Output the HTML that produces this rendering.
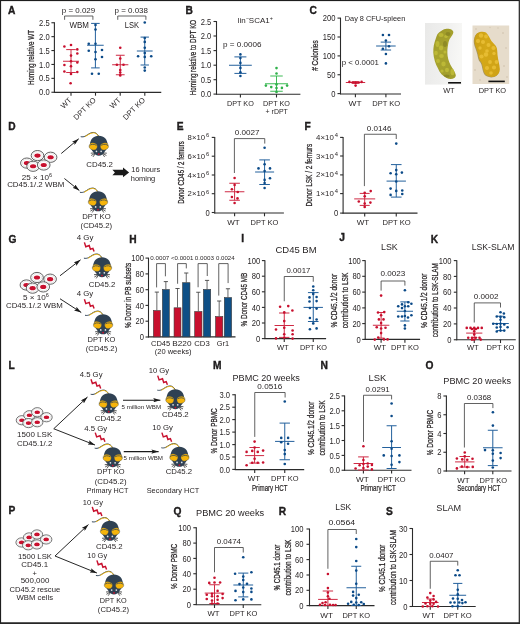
<!DOCTYPE html>
<html><head><meta charset="utf-8"><title>Figure</title>
<style>
html,body{margin:0;padding:0;background:#fff;}
body{width:520px;height:624px;overflow:hidden;}
svg{display:block;will-change:transform;font-family:"Liberation Sans",sans-serif;}
svg text{fill:#231f20;}
</style></head>
<body>
<svg width="520" height="624" viewBox="0 0 520 624">
<rect x="0" y="0" width="520" height="624" fill="#fff"/>

<defs>
 <g id="mouse">
  <path d="M-0.4,0.3 C-1.5,-1.8 -3.5,-3.1 -5.6,-3.0 C-8.8,-2.9 -11,-0.6 -13.6,0.7 C-15,1.4 -16.4,1.6 -17.7,1.3" fill="none" stroke="#34465a" stroke-width="1.0" stroke-linecap="round" transform="translate(0,-0.25)"/>
  <path d="M-0.4,0.3 C-1.5,-1.8 -3.5,-3.1 -5.6,-3.0 C-8.8,-2.9 -11,-0.6 -13.6,0.7" fill="none" stroke="#f7b800" stroke-width="0.85" stroke-linecap="round" transform="translate(0,0.15)"/>
  <g stroke="#2e2e2e" stroke-width="0.8" fill="none">
   <path d="M-3.8,17.2 L-8,17.5 M-3.8,17.6 L-7.6,19.8 M-3.6,18 L-5.8,21.2"/>
   <path d="M3.8,17.2 L8,17.5 M3.8,17.6 L7.6,19.8 M3.6,18 L5.8,21.2"/>
  </g>
  <path d="M0,0 C5.3,0 8.8,3.8 8.8,9 C8.8,12.6 6.6,14.8 5.4,16.6 C4.2,18.6 2.4,20 0,20 C-2.4,20 -4.2,18.6 -5.4,16.6 C-6.6,14.8 -8.8,12.6 -8.8,9 C-8.8,3.8 -5.3,0 0,0 Z" fill="#2f4153"/>
  <ellipse cx="0" cy="0" rx="4.1" ry="3.45" fill="#f5b40c" stroke="#2f4153" stroke-width="0.3" transform="translate(-5.6,10.7) rotate(18)"/>
  <ellipse cx="0" cy="0" rx="4.1" ry="3.45" fill="#f5b40c" stroke="#2f4153" stroke-width="0.3" transform="translate(5.6,10.7) rotate(-18)"/>
  <path d="M-9.3,10.2 C-8.2,8.4 -5.2,8 -2.3,9.6 M9.3,10.2 C8.2,8.4 5.2,8 2.3,9.6" fill="none" stroke="#2f4153" stroke-width="0.75"/>
  <circle cx="-2.35" cy="15.6" r="0.85" fill="#dfe4ea"/>
  <circle cx="2.35" cy="15.6" r="0.85" fill="#dfe4ea"/>
  <circle cx="0" cy="18.4" r="0.9" fill="#c8102e"/>
 </g>
 <path id="bolt" d="M0,0 L1.4,4.3 L4.8,3.1 L6,6.9 L8.5,6 L9.7,9.2" fill="none" stroke="#c8102e" stroke-width="1.45" stroke-linejoin="miter" stroke-miterlimit="6"/>
 <g id="cell">
  <ellipse cx="0" cy="0" rx="6.3" ry="5.1" fill="#fff" stroke="#3a3a3a" stroke-width="0.8"/>
  <ellipse cx="0" cy="0" rx="4.6" ry="3.8" fill="none" stroke="#cfcfcf" stroke-width="0.5"/>
  <ellipse cx="0" cy="0" rx="3.1" ry="2.05" fill="#c8102e"/>
 </g>
 <marker id="ah" viewBox="0 0 10 10" refX="10" refY="5" markerWidth="7.2" markerHeight="4.4" markerUnits="userSpaceOnUse" orient="auto" preserveAspectRatio="none">
  <path d="M0,0 L10,5 L0,10 L2,5 Z" fill="#1a1a1a"/>
 </marker>
</defs>

<text x="8.1" y="14.05" font-size="10.2" font-weight="bold" stroke="#111" stroke-width="0.35">A</text>
<line x1="54.4" y1="22.35" x2="54.4" y2="92.75" stroke="#2b2b2b" stroke-width="1.1"/>
<line x1="51.4" y1="22.75" x2="54.4" y2="22.75" stroke="#2b2b2b" stroke-width="1.1"/>
<text x="49.65" y="25.85" font-size="8.28" text-anchor="end" textLength="10.56" lengthAdjust="spacingAndGlyphs">2.5</text>
<line x1="51.4" y1="36.65" x2="54.4" y2="36.65" stroke="#2b2b2b" stroke-width="1.1"/>
<text x="49.65" y="39.75" font-size="8.28" text-anchor="end" textLength="10.56" lengthAdjust="spacingAndGlyphs">2.0</text>
<line x1="51.4" y1="50.55" x2="54.4" y2="50.55" stroke="#2b2b2b" stroke-width="1.1"/>
<text x="49.65" y="53.65" font-size="8.28" text-anchor="end" textLength="10.56" lengthAdjust="spacingAndGlyphs">1.5</text>
<line x1="51.4" y1="64.45" x2="54.4" y2="64.45" stroke="#2b2b2b" stroke-width="1.1"/>
<text x="49.65" y="67.55" font-size="8.28" text-anchor="end" textLength="10.56" lengthAdjust="spacingAndGlyphs">1.0</text>
<line x1="51.4" y1="78.35" x2="54.4" y2="78.35" stroke="#2b2b2b" stroke-width="1.1"/>
<text x="49.65" y="81.45" font-size="8.28" text-anchor="end" textLength="10.56" lengthAdjust="spacingAndGlyphs">0.5</text>
<line x1="51.4" y1="92.25" x2="54.4" y2="92.25" stroke="#2b2b2b" stroke-width="1.1"/>
<text x="49.65" y="95.35" font-size="8.28" text-anchor="end" textLength="10.56" lengthAdjust="spacingAndGlyphs">0.0</text>
<line x1="53.9" y1="92.4" x2="161.25" y2="92.4" stroke="#2b2b2b" stroke-width="1.1"/>
<line x1="71" y1="92.4" x2="71" y2="95.7" stroke="#2b2b2b" stroke-width="1.1"/>
<line x1="95.5" y1="92.4" x2="95.5" y2="95.7" stroke="#2b2b2b" stroke-width="1.1"/>
<line x1="120.2" y1="92.4" x2="120.2" y2="95.7" stroke="#2b2b2b" stroke-width="1.1"/>
<line x1="144.8" y1="92.4" x2="144.8" y2="95.7" stroke="#2b2b2b" stroke-width="1.1"/>
<text transform="translate(34.2,57.55) rotate(-90)" x="0" y="0" font-size="9.2" text-anchor="middle" textLength="55.1" lengthAdjust="spacingAndGlyphs" stroke="#231f20" stroke-width="0.25">Homing relative WT</text>
<path d="M64.6,19.8 V16 H92.9 V19.8" fill="none" stroke="#3a3a3a" stroke-width="0.8"/>
<text x="61.75" y="12.8" font-size="8.06" textLength="33.5" lengthAdjust="spacingAndGlyphs" >p = 0.029</text>
<text x="69.5" y="27.6" font-size="8.29" textLength="19.5" lengthAdjust="spacingAndGlyphs" >WBM</text>
<path d="M117.75,19.8 V16 H145.9 V19.8" fill="none" stroke="#3a3a3a" stroke-width="0.8"/>
<text x="114.5" y="12.8" font-size="8.06" textLength="33.5" lengthAdjust="spacingAndGlyphs" >p = 0.038</text>
<text x="124.75" y="27.6" font-size="8.29" textLength="14.25" lengthAdjust="spacingAndGlyphs" >LSK</text>
<text transform="translate(72,100.6) rotate(-45)" font-size="7.6" text-anchor="end">WT</text>
<text transform="translate(96.5,100.6) rotate(-45)" font-size="7.6" text-anchor="end">DPT KO</text>
<text transform="translate(121.2,100.6) rotate(-45)" font-size="7.6" text-anchor="end">WT</text>
<text transform="translate(145.8,100.6) rotate(-45)" font-size="7.6" text-anchor="end">DPT KO</text>
<line x1="71" y1="49.6" x2="71" y2="72.5" stroke="#cf2a44" stroke-width="1"/>
<line x1="63" y1="61.25" x2="79" y2="61.25" stroke="#cf2a44" stroke-width="1"/>
<line x1="66.2" y1="49.6" x2="75.8" y2="49.6" stroke="#cf2a44" stroke-width="1"/>
<line x1="66.2" y1="72.5" x2="75.8" y2="72.5" stroke="#cf2a44" stroke-width="1"/>
<circle cx="64.4" cy="46.5" r="1.3" fill="#c8102e"/>
<circle cx="71" cy="45" r="1.3" fill="#c8102e"/>
<circle cx="77.3" cy="49.4" r="1.3" fill="#c8102e"/>
<circle cx="77.3" cy="53.5" r="1.3" fill="#c8102e"/>
<circle cx="71" cy="55.6" r="1.3" fill="#c8102e"/>
<circle cx="71" cy="61.3" r="1.3" fill="#c8102e"/>
<circle cx="64.4" cy="65" r="1.3" fill="#c8102e"/>
<circle cx="77.3" cy="62.5" r="1.3" fill="#c8102e"/>
<circle cx="71" cy="66.2" r="1.3" fill="#c8102e"/>
<circle cx="64.4" cy="71.5" r="1.3" fill="#c8102e"/>
<circle cx="77.3" cy="72" r="1.3" fill="#c8102e"/>
<circle cx="71" cy="74" r="1.3" fill="#c8102e"/>
<circle cx="70.6" cy="83.2" r="1.3" fill="#c8102e"/>
<line x1="95.4" y1="23.4" x2="95.4" y2="67.9" stroke="#23609c" stroke-width="1"/>
<line x1="87.1" y1="45.25" x2="103.7" y2="45.25" stroke="#23609c" stroke-width="1"/>
<line x1="91.1" y1="23.4" x2="99.7" y2="23.4" stroke="#23609c" stroke-width="1"/>
<line x1="91.1" y1="67.9" x2="99.7" y2="67.9" stroke="#23609c" stroke-width="1"/>
<circle cx="95.5" cy="25" r="1.3" fill="#0b4a88"/>
<circle cx="95.5" cy="29.5" r="1.3" fill="#0b4a88"/>
<circle cx="88.75" cy="43.75" r="1.3" fill="#0b4a88"/>
<circle cx="95.5" cy="43.75" r="1.3" fill="#0b4a88"/>
<circle cx="88.75" cy="50.75" r="1.3" fill="#0b4a88"/>
<circle cx="102" cy="50" r="1.3" fill="#0b4a88"/>
<circle cx="95.5" cy="52" r="1.3" fill="#0b4a88"/>
<circle cx="102" cy="57" r="1.3" fill="#0b4a88"/>
<circle cx="95.5" cy="59.25" r="1.3" fill="#0b4a88"/>
<circle cx="92" cy="73.75" r="1.3" fill="#0b4a88"/>
<circle cx="98.75" cy="73.75" r="1.3" fill="#0b4a88"/>
<line x1="120.25" y1="55.25" x2="120.25" y2="74.75" stroke="#cf2a44" stroke-width="1"/>
<line x1="112.15" y1="64.75" x2="128.35" y2="64.75" stroke="#cf2a44" stroke-width="1"/>
<line x1="115.85" y1="55.25" x2="124.65" y2="55.25" stroke="#cf2a44" stroke-width="1"/>
<line x1="115.85" y1="74.75" x2="124.65" y2="74.75" stroke="#cf2a44" stroke-width="1"/>
<circle cx="120.25" cy="47.75" r="1.3" fill="#c8102e"/>
<circle cx="120.25" cy="58.5" r="1.3" fill="#c8102e"/>
<circle cx="116.9" cy="64.75" r="1.3" fill="#c8102e"/>
<circle cx="123.5" cy="64.75" r="1.3" fill="#c8102e"/>
<circle cx="120.25" cy="70" r="1.3" fill="#c8102e"/>
<circle cx="120.25" cy="72.5" r="1.3" fill="#c8102e"/>
<circle cx="120.25" cy="75.4" r="1.3" fill="#c8102e"/>
<line x1="144.75" y1="37.1" x2="144.75" y2="65" stroke="#23609c" stroke-width="1"/>
<line x1="136.85" y1="51" x2="152.65" y2="51" stroke="#23609c" stroke-width="1"/>
<line x1="140.55" y1="37.1" x2="148.95" y2="37.1" stroke="#23609c" stroke-width="1"/>
<line x1="140.55" y1="65" x2="148.95" y2="65" stroke="#23609c" stroke-width="1"/>
<circle cx="144.75" cy="22.5" r="1.3" fill="#0b4a88"/>
<circle cx="144.75" cy="38.1" r="1.3" fill="#0b4a88"/>
<circle cx="144.75" cy="41.9" r="1.3" fill="#0b4a88"/>
<circle cx="144.75" cy="47.75" r="1.3" fill="#0b4a88"/>
<circle cx="144.75" cy="53.1" r="1.3" fill="#0b4a88"/>
<circle cx="138.1" cy="56.25" r="1.3" fill="#0b4a88"/>
<circle cx="151.25" cy="56.25" r="1.3" fill="#0b4a88"/>
<circle cx="144.75" cy="56.9" r="1.3" fill="#0b4a88"/>
<circle cx="144.75" cy="67.5" r="1.3" fill="#0b4a88"/>
<circle cx="144.75" cy="70.6" r="1.3" fill="#0b4a88"/>
<text x="185.4" y="13.85" font-size="10.2" font-weight="bold" stroke="#111" stroke-width="0.35">B</text>
<line x1="216.5" y1="21.1" x2="216.5" y2="94.6" stroke="#2b2b2b" stroke-width="1.1"/>
<line x1="213.5" y1="21.5" x2="216.5" y2="21.5" stroke="#2b2b2b" stroke-width="1.1"/>
<text x="211.25" y="24.6" font-size="8.28" text-anchor="end" textLength="10.56" lengthAdjust="spacingAndGlyphs">2.5</text>
<line x1="213.5" y1="36" x2="216.5" y2="36" stroke="#2b2b2b" stroke-width="1.1"/>
<text x="211.25" y="39.1" font-size="8.28" text-anchor="end" textLength="10.56" lengthAdjust="spacingAndGlyphs">2.0</text>
<line x1="213.5" y1="50.6" x2="216.5" y2="50.6" stroke="#2b2b2b" stroke-width="1.1"/>
<text x="211.25" y="53.7" font-size="8.28" text-anchor="end" textLength="10.56" lengthAdjust="spacingAndGlyphs">1.5</text>
<line x1="213.5" y1="65.2" x2="216.5" y2="65.2" stroke="#2b2b2b" stroke-width="1.1"/>
<text x="211.25" y="68.3" font-size="8.28" text-anchor="end" textLength="10.56" lengthAdjust="spacingAndGlyphs">1.0</text>
<line x1="213.5" y1="79.7" x2="216.5" y2="79.7" stroke="#2b2b2b" stroke-width="1.1"/>
<text x="211.25" y="82.8" font-size="8.28" text-anchor="end" textLength="10.56" lengthAdjust="spacingAndGlyphs">0.5</text>
<line x1="213.5" y1="94.1" x2="216.5" y2="94.1" stroke="#2b2b2b" stroke-width="1.1"/>
<text x="211.25" y="97.2" font-size="8.28" text-anchor="end" textLength="10.56" lengthAdjust="spacingAndGlyphs">0.0</text>
<line x1="216" y1="94.3" x2="300.4" y2="94.3" stroke="#2b2b2b" stroke-width="1.1"/>
<line x1="240.4" y1="94.3" x2="240.4" y2="97.5" stroke="#2b2b2b" stroke-width="1.1"/>
<line x1="276.5" y1="94.3" x2="276.5" y2="97.5" stroke="#2b2b2b" stroke-width="1.1"/>
<text transform="translate(195.8,57.5) rotate(-90)" x="0" y="0" font-size="9.2" text-anchor="middle" textLength="75.4" lengthAdjust="spacingAndGlyphs" stroke="#231f20" stroke-width="0.25">Homing relative to DPT KO</text>
<text x="237.7" y="22.7" font-size="7.6" textLength="35.2" lengthAdjust="spacingAndGlyphs">lin<tspan font-size="5.2" dy="-2.8">−</tspan><tspan dy="2.8">SCA1</tspan><tspan font-size="5.2" dy="-2.8">+</tspan></text>
<text x="223" y="46.7" font-size="8.06" textLength="38.5" lengthAdjust="spacingAndGlyphs" >p = 0.0006</text>
<text x="240.4" y="105.6" font-size="8.06" text-anchor="middle" textLength="26.8" lengthAdjust="spacingAndGlyphs">DPT KO</text>
<text x="276.5" y="105.6" font-size="8.06" text-anchor="middle" textLength="26.8" lengthAdjust="spacingAndGlyphs">DPT KO</text>
<text x="276.7" y="114" font-size="8.06" text-anchor="middle" textLength="22.2" lengthAdjust="spacingAndGlyphs">+ rDPT</text>
<line x1="240.4" y1="56.9" x2="240.4" y2="73.4" stroke="#23609c" stroke-width="1"/>
<line x1="229" y1="65.25" x2="251.8" y2="65.25" stroke="#23609c" stroke-width="1"/>
<line x1="234.4" y1="56.9" x2="246.4" y2="56.9" stroke="#23609c" stroke-width="1"/>
<line x1="234.4" y1="73.4" x2="246.4" y2="73.4" stroke="#23609c" stroke-width="1"/>
<circle cx="240.4" cy="54.4" r="1.3" fill="#0b4a88"/>
<circle cx="240.4" cy="58.1" r="1.3" fill="#0b4a88"/>
<circle cx="240.4" cy="62.9" r="1.3" fill="#0b4a88"/>
<circle cx="240.4" cy="67.9" r="1.3" fill="#0b4a88"/>
<circle cx="240.4" cy="72.25" r="1.3" fill="#0b4a88"/>
<circle cx="240.4" cy="76" r="1.3" fill="#0b4a88"/>
<line x1="276.5" y1="76" x2="276.5" y2="91.25" stroke="#3dbb55" stroke-width="1"/>
<line x1="265" y1="83.75" x2="288" y2="83.75" stroke="#3dbb55" stroke-width="1"/>
<line x1="270.25" y1="76" x2="282.75" y2="76" stroke="#3dbb55" stroke-width="1"/>
<line x1="270.25" y1="91.25" x2="282.75" y2="91.25" stroke="#3dbb55" stroke-width="1"/>
<circle cx="276.5" cy="68.1" r="1.3" fill="#2fb14a"/>
<circle cx="276.5" cy="73.5" r="1.3" fill="#2fb14a"/>
<circle cx="265.9" cy="85.6" r="1.3" fill="#2fb14a"/>
<circle cx="276.5" cy="84.4" r="1.3" fill="#2fb14a"/>
<circle cx="287.1" cy="85.6" r="1.3" fill="#2fb14a"/>
<circle cx="271.25" cy="87.1" r="1.3" fill="#2fb14a"/>
<circle cx="281.9" cy="87.9" r="1.3" fill="#2fb14a"/>
<circle cx="276.5" cy="88.1" r="1.3" fill="#2fb14a"/>
<circle cx="276.5" cy="91.9" r="1.3" fill="#2fb14a"/>
<text x="309.55" y="13.6" font-size="10.2" font-weight="bold" stroke="#111" stroke-width="0.35">C</text>
<line x1="340.5" y1="17.7" x2="340.5" y2="94.2" stroke="#2b2b2b" stroke-width="1.1"/>
<line x1="337.5" y1="18.1" x2="340.5" y2="18.1" stroke="#2b2b2b" stroke-width="1.1"/>
<text x="335.5" y="21.2" font-size="8.28" text-anchor="end" textLength="12.68" lengthAdjust="spacingAndGlyphs">200</text>
<line x1="337.5" y1="37" x2="340.5" y2="37" stroke="#2b2b2b" stroke-width="1.1"/>
<text x="335.5" y="40.1" font-size="8.28" text-anchor="end" textLength="12.68" lengthAdjust="spacingAndGlyphs">150</text>
<line x1="337.5" y1="55.9" x2="340.5" y2="55.9" stroke="#2b2b2b" stroke-width="1.1"/>
<text x="335.5" y="59" font-size="8.28" text-anchor="end" textLength="12.68" lengthAdjust="spacingAndGlyphs">100</text>
<line x1="337.5" y1="74.75" x2="340.5" y2="74.75" stroke="#2b2b2b" stroke-width="1.1"/>
<text x="335.5" y="77.85" font-size="8.28" text-anchor="end" textLength="8.45" lengthAdjust="spacingAndGlyphs">50</text>
<line x1="337.5" y1="93.6" x2="340.5" y2="93.6" stroke="#2b2b2b" stroke-width="1.1"/>
<text x="335.5" y="96.7" font-size="8.28" text-anchor="end" textLength="4.23" lengthAdjust="spacingAndGlyphs">0</text>
<line x1="340" y1="94" x2="401" y2="94" stroke="#2b2b2b" stroke-width="1.1"/>
<line x1="355.4" y1="94" x2="355.4" y2="97.3" stroke="#2b2b2b" stroke-width="1.1"/>
<line x1="385.9" y1="94" x2="385.9" y2="97.3" stroke="#2b2b2b" stroke-width="1.1"/>
<text transform="translate(318,55.6) rotate(-90)" x="0" y="0" font-size="9.2" text-anchor="middle" textLength="30.4" lengthAdjust="spacingAndGlyphs" stroke="#231f20" stroke-width="0.25"># Colonies</text>
<text x="344.75" y="20.5" font-size="8.06" textLength="60.5" lengthAdjust="spacingAndGlyphs" >Day 8 CFU-spleen</text>
<text x="341.65" y="65" font-size="8.06" textLength="37.35" lengthAdjust="spacingAndGlyphs" >p &lt; 0.0001</text>
<text x="348.5" y="105.9" font-size="8.06" textLength="13" lengthAdjust="spacingAndGlyphs" >WT</text>
<text x="372.25" y="105.9" font-size="8.06" textLength="28" lengthAdjust="spacingAndGlyphs" >DPT KO</text>
<line x1="355.5" y1="81.6" x2="355.5" y2="83.4" stroke="#cf2a44" stroke-width="1"/>
<line x1="345.8" y1="82.5" x2="365.2" y2="82.5" stroke="#cf2a44" stroke-width="1"/>
<line x1="352.5" y1="81.6" x2="358.5" y2="81.6" stroke="#cf2a44" stroke-width="1"/>
<line x1="352.5" y1="83.4" x2="358.5" y2="83.4" stroke="#cf2a44" stroke-width="1"/>
<circle cx="349.4" cy="81.9" r="1.3" fill="#c8102e"/>
<circle cx="352.5" cy="82.5" r="1.3" fill="#c8102e"/>
<circle cx="355.6" cy="82.75" r="1.3" fill="#c8102e"/>
<circle cx="358.75" cy="82.5" r="1.3" fill="#c8102e"/>
<circle cx="361.6" cy="81.9" r="1.3" fill="#c8102e"/>
<circle cx="355.6" cy="85.6" r="1.3" fill="#c8102e"/>
<line x1="385.9" y1="42.1" x2="385.9" y2="50" stroke="#23609c" stroke-width="1"/>
<line x1="376.1" y1="46" x2="395.7" y2="46" stroke="#23609c" stroke-width="1"/>
<line x1="380.7" y1="42.1" x2="391.1" y2="42.1" stroke="#23609c" stroke-width="1"/>
<line x1="380.7" y1="50" x2="391.1" y2="50" stroke="#23609c" stroke-width="1"/>
<circle cx="382.9" cy="35" r="1.3" fill="#0b4a88"/>
<circle cx="389" cy="35" r="1.3" fill="#0b4a88"/>
<circle cx="385.9" cy="40.6" r="1.3" fill="#0b4a88"/>
<circle cx="389" cy="46.25" r="1.3" fill="#0b4a88"/>
<circle cx="382.9" cy="48.75" r="1.3" fill="#0b4a88"/>
<circle cx="385.9" cy="54" r="1.3" fill="#0b4a88"/>
<circle cx="385.9" cy="63.4" r="1.3" fill="#0b4a88"/>

<defs>
 <linearGradient id="wtbg" x1="0" y1="0" x2="1" y2="0.2">
  <stop offset="0" stop-color="#e9e9e8"/><stop offset="0.6" stop-color="#f0f0ef"/><stop offset="1" stop-color="#f7f7f5"/>
 </linearGradient>
 <linearGradient id="wtsp" x1="0" y1="0" x2="0.4" y2="1">
  <stop offset="0" stop-color="#9a9528"/><stop offset="0.5" stop-color="#a8a42e"/><stop offset="1" stop-color="#a29e2c"/>
 </linearGradient>
 <linearGradient id="kosp" x1="0" y1="0" x2="1" y2="0.3">
  <stop offset="0" stop-color="#c89c14"/><stop offset="0.5" stop-color="#d4a818"/><stop offset="1" stop-color="#cfa216"/>
 </linearGradient>
 <clipPath id="wtclip"><path d="M441.5,30.7 C443,29.5 445,28.8 446.6,28.7 C448.5,28.6 450.5,29 451.7,29.7 C453,30.6 453.6,31.8 453.3,32.8 C453,34 452.5,34.8 452.2,35.3 C451,37.3 450,38.5 449.2,40 C448.6,41.5 448.3,43 448.1,44.6 C447.8,46.5 447.5,48 447.4,49.7 C447.3,52 447.4,54 447.6,55.8 C447.9,58 448.4,60 449.2,62 C450,64 450.8,65.6 451.7,67.1 C452.5,68.5 453.3,69.3 453.8,70.2 C454.6,71.8 455.6,73.5 455.8,75.3 C455.9,76.5 455.2,77.4 454.3,77.9 C453.2,78.6 452,78.9 450.7,78.9 C449.2,78.9 447.8,78.5 446.6,77.9 C444.8,77 443,75.8 441.5,74.3 C440,72.5 438.8,70.5 437.9,68.2 C436.6,65.8 435.5,63.5 434.8,61 C434,58.3 433.4,55.5 433.3,52.8 C433.2,50.3 433.4,47.8 433.8,45.6 C434.3,43 434.9,40.6 435.8,38.4 C436.3,37 436.8,35.5 437.4,34.3 C438.6,32.6 440,31.5 441.5,30.7 Z"/></clipPath>
 <clipPath id="koclip"><path d="M477,33.4 C479,31.6 483,31 486,32.4 C488.5,35 490,38.5 491.4,40.9 C493.5,43.5 496,45 496.8,48 C497.5,51 497.3,53.8 497.8,57 C498.4,61 499.6,65 499.8,68.7 C500,72 498.5,75 494.8,76.6 C491.5,77.4 489.5,76.8 487.9,76.1 C485.5,75 484.6,73.5 483.9,71.7 C483,68.5 482.5,65.5 481.9,63.7 C481,61.5 479.8,60.5 479.4,59.7 C478.5,57.5 478.3,55.5 477.9,53.8 C477.3,51.5 476.6,49.5 476,47.8 C475.2,45.5 474.6,43.5 474.5,41.9 C474.3,39.5 474.8,38 475,36.9 C475.4,35.4 476.1,34.3 477,33.4 Z"/></clipPath>
</defs>
<rect x="425" y="23" width="37" height="61.6" fill="url(#wtbg)"/>
<g clip-path="url(#wtclip)">
 <rect x="430" y="26" width="30" height="58" fill="url(#wtsp)"/>
 <g fill="#c4c13a" opacity="0.75">
  <ellipse cx="441" cy="35" rx="2.6" ry="2"/><ellipse cx="446" cy="36.5" rx="1.8" ry="1.6"/><ellipse cx="437.5" cy="44" rx="2" ry="3"/><ellipse cx="441" cy="48" rx="2.2" ry="2.4"/>
  <ellipse cx="436" cy="53" rx="1.8" ry="2.2"/><ellipse cx="441.5" cy="56" rx="2.4" ry="2"/><ellipse cx="445" cy="52" rx="1.5" ry="1.6"/><ellipse cx="438" cy="61" rx="2" ry="2"/>
  <ellipse cx="443.5" cy="64" rx="2.2" ry="2.4"/><ellipse cx="447" cy="70" rx="2" ry="2.2"/><ellipse cx="452.5" cy="72" rx="2" ry="3.2"/><ellipse cx="442" cy="71" rx="1.6" ry="1.5"/>
 </g>
 <g fill="#7d7820" opacity="0.55">
  <ellipse cx="448" cy="34" rx="2.5" ry="2"/><ellipse cx="445" cy="44" rx="2" ry="3"/><ellipse cx="446.5" cy="76" rx="3" ry="1.5"/>
 </g>
</g>
<rect x="448.1" y="82" width="12.9" height="1.6" fill="#111"/>
<rect x="472.5" y="25.5" width="36.7" height="58.5" fill="#e6dccb"/>
<g fill="#d4c7b3" opacity="0.8">
 <circle cx="476" cy="29" r="0.9"/><circle cx="503" cy="33" r="1"/><circle cx="506" cy="48" r="0.9"/><circle cx="475" cy="70" r="1"/><circle cx="480" cy="80" r="0.9"/><circle cx="504" cy="66" r="1"/><circle cx="498" cy="28" r="0.8"/><circle cx="490" cy="27.5" r="0.8"/><circle cx="507" cy="77" r="0.9"/>
</g>
<path d="M477,33.4 C479,31.6 483,31 486,32.4 C488.5,35 490,38.5 491.4,40.9 C493.5,43.5 496,45 496.8,48 C497.5,51 497.3,53.8 497.8,57 C498.4,61 499.6,65 499.8,68.7 C500,72 498.5,75 494.8,76.6 C491.5,77.4 489.5,76.8 487.9,76.1 C485.5,75 484.6,73.5 483.9,71.7 C483,68.5 482.5,65.5 481.9,63.7 C481,61.5 479.8,60.5 479.4,59.7 C478.5,57.5 478.3,55.5 477.9,53.8 C477.3,51.5 476.6,49.5 476,47.8 C475.2,45.5 474.6,43.5 474.5,41.9 C474.3,39.5 474.8,38 475,36.9 C475.4,35.4 476.1,34.3 477,33.4 Z" fill="#7a6418" opacity="0.6" transform="translate(-0.6,0.5)"/>
<g clip-path="url(#koclip)">
 <rect x="472" y="29" width="31" height="50" fill="url(#kosp)"/>
 <g fill="#ecc23a" opacity="0.8">
  <circle cx="481" cy="35.5" r="2.2"/><circle cx="486" cy="36.5" r="1.9"/><circle cx="478" cy="41" r="2.1"/><circle cx="483" cy="42" r="2"/>
  <circle cx="488.5" cy="45" r="2"/><circle cx="493.5" cy="48" r="2.1"/><circle cx="480" cy="48" r="1.7"/><circle cx="487" cy="51" r="1.8"/>
  <circle cx="486" cy="54.5" r="2.2"/><circle cx="481.5" cy="56.5" r="2.1"/><circle cx="494" cy="53.5" r="1.7"/><circle cx="490" cy="62" r="1.9"/>
  <circle cx="496.5" cy="62" r="1.9"/><circle cx="487" cy="68" r="2"/><circle cx="494" cy="67.5" r="2.1"/><circle cx="491" cy="73" r="1.8"/>
 </g>
</g>
<rect x="488.4" y="80.6" width="16.4" height="1.6" fill="#111"/>

<text x="443.15" y="92.8" font-size="8.06" textLength="11.5" lengthAdjust="spacingAndGlyphs" >WT</text>
<text x="478.65" y="92.8" font-size="8.06" textLength="27.5" lengthAdjust="spacingAndGlyphs" >DPT KO</text>
<text x="8.3" y="129.85" font-size="10.2" font-weight="bold" stroke="#111" stroke-width="0.35">D</text>
<use href="#cell" transform="translate(26.9,163.1) scale(1)"/>
<use href="#cell" transform="translate(37.5,155.6) scale(1)"/>
<use href="#cell" transform="translate(50.6,157.25) scale(1)"/>
<use href="#cell" transform="translate(33.1,166.25) scale(1)"/>
<use href="#cell" transform="translate(43.75,165) scale(1)"/>
<text x="21.8" y="179.7" font-size="7.6" textLength="30.2" lengthAdjust="spacingAndGlyphs">25 × 10<tspan font-size="5.2" dx="0" dy="-2.5">6</tspan></text>
<text x="7.15" y="187" font-size="8.06" textLength="57.1" lengthAdjust="spacingAndGlyphs" >CD45.1/.2 WBM</text>
<line x1="61.25" y1="153.5" x2="78.75" y2="138.75" stroke="#1a1a1a" stroke-width="0.95" marker-end="url(#ah)"/>
<line x1="64.4" y1="178.5" x2="79.4" y2="190.6" stroke="#1a1a1a" stroke-width="0.95" marker-end="url(#ah)"/>
<use href="#mouse" transform="translate(98.8,135.7)"/>
<text x="86.35" y="166.6" font-size="8.06" textLength="26.65" lengthAdjust="spacingAndGlyphs" >CD45.2</text>
<path d="M112.4,169.8 L123,169.8 L123,167.5 L129.1,172.5 L123,177.3 L123,175.2 L112.4,175.2 L114.9,172.5 Z" fill="#1a1a1a"/>
<text x="131.35" y="171.5" font-size="8.06" textLength="28.8" lengthAdjust="spacingAndGlyphs" >16 hours</text>
<text x="130.75" y="180.5" font-size="8.06" textLength="24.5" lengthAdjust="spacingAndGlyphs" >homing</text>
<use href="#mouse" transform="translate(98,191.3)"/>
<text x="82.25" y="218.8" font-size="8.06" textLength="28.4" lengthAdjust="spacingAndGlyphs" >DPT KO</text>
<text x="80.55" y="228" font-size="8.06" textLength="31.5" lengthAdjust="spacingAndGlyphs" >(CD45.2)</text>
<text x="176.7" y="129.75" font-size="10.2" font-weight="bold" stroke="#111" stroke-width="0.35">E</text>
<line x1="214.75" y1="137" x2="214.75" y2="213.5" stroke="#2b2b2b" stroke-width="1.1"/>
<line x1="211.75" y1="137.4" x2="214.75" y2="137.4" stroke="#2b2b2b" stroke-width="1.1"/>
<text x="187.6" y="139.9" font-size="7" textLength="21.7" lengthAdjust="spacingAndGlyphs">8×10<tspan font-size="5.2" dx="0.9" dy="-2.7">6</tspan></text>
<line x1="211.75" y1="156.2" x2="214.75" y2="156.2" stroke="#2b2b2b" stroke-width="1.1"/>
<text x="187.6" y="158.7" font-size="7" textLength="21.7" lengthAdjust="spacingAndGlyphs">6×10<tspan font-size="5.2" dx="0.9" dy="-2.7">6</tspan></text>
<line x1="211.75" y1="175" x2="214.75" y2="175" stroke="#2b2b2b" stroke-width="1.1"/>
<text x="187.6" y="177.5" font-size="7" textLength="21.7" lengthAdjust="spacingAndGlyphs">4×10<tspan font-size="5.2" dx="0.9" dy="-2.7">6</tspan></text>
<line x1="211.75" y1="193.7" x2="214.75" y2="193.7" stroke="#2b2b2b" stroke-width="1.1"/>
<text x="187.6" y="196.2" font-size="7" textLength="21.7" lengthAdjust="spacingAndGlyphs">2×10<tspan font-size="5.2" dx="0.9" dy="-2.7">6</tspan></text>
<line x1="211.75" y1="212.5" x2="214.75" y2="212.5" stroke="#2b2b2b" stroke-width="1.1"/>
<text x="209.75" y="215.6" font-size="8.28" text-anchor="end" textLength="4.23" lengthAdjust="spacingAndGlyphs">0</text>
<line x1="214.25" y1="213" x2="283.9" y2="213" stroke="#2b2b2b" stroke-width="1.1"/>
<line x1="234.6" y1="213" x2="234.6" y2="216.3" stroke="#2b2b2b" stroke-width="1.1"/>
<line x1="264.5" y1="213" x2="264.5" y2="216.3" stroke="#2b2b2b" stroke-width="1.1"/>
<text transform="translate(184.2,172.5) rotate(-90)" x="0" y="0" font-size="9.2" text-anchor="middle" textLength="62.6" lengthAdjust="spacingAndGlyphs" stroke="#231f20" stroke-width="0.25">Donor CD45 / 2 femurs</text>
<path d="M234.4,173 V138.6 H264.75 V143.6" fill="none" stroke="#3a3a3a" stroke-width="0.8"/>
<text x="234.75" y="134.9" font-size="8.06" textLength="24.9" lengthAdjust="spacingAndGlyphs" >0.0027</text>
<text x="227.25" y="225" font-size="8.06" textLength="12.5" lengthAdjust="spacingAndGlyphs" >WT</text>
<text x="250.5" y="225" font-size="8.06" textLength="27.75" lengthAdjust="spacingAndGlyphs" >DPT KO</text>
<line x1="234.6" y1="183.25" x2="234.6" y2="200.25" stroke="#cf2a44" stroke-width="1"/>
<line x1="224.8" y1="191.75" x2="244.4" y2="191.75" stroke="#cf2a44" stroke-width="1"/>
<line x1="229.3" y1="183.25" x2="239.9" y2="183.25" stroke="#cf2a44" stroke-width="1"/>
<line x1="229.3" y1="200.25" x2="239.9" y2="200.25" stroke="#cf2a44" stroke-width="1"/>
<circle cx="234.6" cy="178" r="1.3" fill="#c8102e"/>
<circle cx="234.6" cy="184.9" r="1.3" fill="#c8102e"/>
<circle cx="231.9" cy="189.25" r="1.3" fill="#c8102e"/>
<circle cx="237.75" cy="192" r="1.3" fill="#c8102e"/>
<circle cx="231.9" cy="197" r="1.3" fill="#c8102e"/>
<circle cx="237.5" cy="198.4" r="1.3" fill="#c8102e"/>
<circle cx="234.6" cy="203" r="1.3" fill="#c8102e"/>
<line x1="264.6" y1="159.9" x2="264.6" y2="184.5" stroke="#23609c" stroke-width="1"/>
<line x1="255.1" y1="172" x2="274.1" y2="172" stroke="#23609c" stroke-width="1"/>
<line x1="259.3" y1="159.9" x2="269.9" y2="159.9" stroke="#23609c" stroke-width="1"/>
<line x1="259.3" y1="184.5" x2="269.9" y2="184.5" stroke="#23609c" stroke-width="1"/>
<circle cx="264.6" cy="147.75" r="1.3" fill="#0b4a88"/>
<circle cx="264.6" cy="164.25" r="1.3" fill="#0b4a88"/>
<circle cx="258.5" cy="168.4" r="1.3" fill="#0b4a88"/>
<circle cx="270" cy="168.4" r="1.3" fill="#0b4a88"/>
<circle cx="264.6" cy="171.1" r="1.3" fill="#0b4a88"/>
<circle cx="270" cy="178.25" r="1.3" fill="#0b4a88"/>
<circle cx="264.6" cy="179.9" r="1.3" fill="#0b4a88"/>
<circle cx="264.6" cy="183" r="1.3" fill="#0b4a88"/>
<circle cx="264.6" cy="188" r="1.3" fill="#0b4a88"/>
<text x="304.55" y="129.75" font-size="10.2" font-weight="bold" stroke="#111" stroke-width="0.35">F</text>
<line x1="343.1" y1="137" x2="343.1" y2="213.6" stroke="#2b2b2b" stroke-width="1.1"/>
<line x1="340.1" y1="137.4" x2="343.1" y2="137.4" stroke="#2b2b2b" stroke-width="1.1"/>
<text x="316.1" y="139.9" font-size="7" textLength="21.9" lengthAdjust="spacingAndGlyphs">4×10<tspan font-size="5.2" dx="0.9" dy="-2.7">4</tspan></text>
<line x1="340.1" y1="156" x2="343.1" y2="156" stroke="#2b2b2b" stroke-width="1.1"/>
<text x="316.1" y="158.5" font-size="7" textLength="21.9" lengthAdjust="spacingAndGlyphs">3×10<tspan font-size="5.2" dx="0.9" dy="-2.7">4</tspan></text>
<line x1="340.1" y1="174.9" x2="343.1" y2="174.9" stroke="#2b2b2b" stroke-width="1.1"/>
<text x="316.1" y="177.4" font-size="7" textLength="21.9" lengthAdjust="spacingAndGlyphs">2×10<tspan font-size="5.2" dx="0.9" dy="-2.7">4</tspan></text>
<line x1="340.1" y1="193.6" x2="343.1" y2="193.6" stroke="#2b2b2b" stroke-width="1.1"/>
<text x="316.1" y="196.1" font-size="7" textLength="21.9" lengthAdjust="spacingAndGlyphs">1×10<tspan font-size="5.2" dx="0.9" dy="-2.7">4</tspan></text>
<line x1="340.1" y1="213.1" x2="343.1" y2="213.1" stroke="#2b2b2b" stroke-width="1.1"/>
<text x="338.25" y="215.8" font-size="8.28" text-anchor="end" textLength="4.23" lengthAdjust="spacingAndGlyphs">0</text>
<line x1="342.6" y1="213.1" x2="417.5" y2="213.1" stroke="#2b2b2b" stroke-width="1.1"/>
<line x1="364.7" y1="213.1" x2="364.7" y2="216.4" stroke="#2b2b2b" stroke-width="1.1"/>
<line x1="396.25" y1="213.1" x2="396.25" y2="216.4" stroke="#2b2b2b" stroke-width="1.1"/>
<text transform="translate(312.3,175.1) rotate(-90)" x="0" y="0" font-size="9.2" text-anchor="middle" textLength="62.6" lengthAdjust="spacingAndGlyphs" stroke="#231f20" stroke-width="0.25">Donor LSK / 2 femurs</text>
<path d="M364.4,186.1 V134.25 H396.25 V139" fill="none" stroke="#3a3a3a" stroke-width="0.8"/>
<text x="366.75" y="130.75" font-size="8.06" textLength="24.75" lengthAdjust="spacingAndGlyphs" >0.0146</text>
<text x="356.75" y="224.9" font-size="8.06" textLength="12.5" lengthAdjust="spacingAndGlyphs" >WT</text>
<text x="382.45" y="224.9" font-size="8.06" textLength="28.2" lengthAdjust="spacingAndGlyphs" >DPT KO</text>
<line x1="364.7" y1="193.4" x2="364.7" y2="205.4" stroke="#cf2a44" stroke-width="1"/>
<line x1="354.2" y1="198.9" x2="375.2" y2="198.9" stroke="#cf2a44" stroke-width="1"/>
<line x1="359.7" y1="193.4" x2="369.7" y2="193.4" stroke="#cf2a44" stroke-width="1"/>
<line x1="359.7" y1="205.4" x2="369.7" y2="205.4" stroke="#cf2a44" stroke-width="1"/>
<circle cx="364.7" cy="192.8" r="1.3" fill="#c8102e"/>
<circle cx="370.7" cy="191.1" r="1.3" fill="#c8102e"/>
<circle cx="364.7" cy="196.2" r="1.3" fill="#c8102e"/>
<circle cx="358.8" cy="201.5" r="1.3" fill="#c8102e"/>
<circle cx="364.7" cy="203.5" r="1.3" fill="#c8102e"/>
<circle cx="370.4" cy="202.6" r="1.3" fill="#c8102e"/>
<circle cx="364.7" cy="206.9" r="1.3" fill="#c8102e"/>
<line x1="396.25" y1="164.6" x2="396.25" y2="197.1" stroke="#23609c" stroke-width="1"/>
<line x1="386.55" y1="181.1" x2="405.95" y2="181.1" stroke="#23609c" stroke-width="1"/>
<line x1="390.95" y1="164.6" x2="401.55" y2="164.6" stroke="#23609c" stroke-width="1"/>
<line x1="390.95" y1="197.1" x2="401.55" y2="197.1" stroke="#23609c" stroke-width="1"/>
<circle cx="396.25" cy="143.6" r="1.3" fill="#0b4a88"/>
<circle cx="396.25" cy="170.1" r="1.3" fill="#0b4a88"/>
<circle cx="390.6" cy="173.25" r="1.3" fill="#0b4a88"/>
<circle cx="401.9" cy="172.6" r="1.3" fill="#0b4a88"/>
<circle cx="396.25" cy="174.25" r="1.3" fill="#0b4a88"/>
<circle cx="396.25" cy="181.5" r="1.3" fill="#0b4a88"/>
<circle cx="390.6" cy="188.6" r="1.3" fill="#0b4a88"/>
<circle cx="396.25" cy="190.9" r="1.3" fill="#0b4a88"/>
<circle cx="402.25" cy="190.5" r="1.3" fill="#0b4a88"/>
<circle cx="390.6" cy="194.9" r="1.3" fill="#0b4a88"/>
<circle cx="402.25" cy="194" r="1.3" fill="#0b4a88"/>
<text x="8.55" y="242.95" font-size="10.2" font-weight="bold" stroke="#111" stroke-width="0.35">G</text>
<use href="#cell" transform="translate(26.4,285) scale(1)"/>
<use href="#cell" transform="translate(37,277.5) scale(1)"/>
<use href="#cell" transform="translate(50.1,279.15) scale(1)"/>
<use href="#cell" transform="translate(32.6,288.15) scale(1)"/>
<use href="#cell" transform="translate(43.25,286.9) scale(1)"/>
<text x="22.9" y="299.7" font-size="7.6" textLength="26" lengthAdjust="spacingAndGlyphs">5 × 10<tspan font-size="5.2" dx="0" dy="-2.5">6</tspan></text>
<text x="6" y="308.25" font-size="8.06" textLength="56.75" lengthAdjust="spacingAndGlyphs" >CD45.1/.2 WBM</text>
<text x="76.65" y="239.5" font-size="8.06" textLength="16.7" lengthAdjust="spacingAndGlyphs" >4 Gy</text>
<use href="#bolt" transform="translate(84.4,242.4) scale(1,1)"/>
<line x1="60" y1="275.75" x2="80.6" y2="259.75" stroke="#1a1a1a" stroke-width="0.95" marker-end="url(#ah)"/>
<use href="#mouse" transform="translate(102,257.2)"/>
<text x="88.75" y="286.6" font-size="8.06" textLength="26.5" lengthAdjust="spacingAndGlyphs" >CD45.2</text>
<text x="76.75" y="296.4" font-size="8.06" textLength="16.5" lengthAdjust="spacingAndGlyphs" >4 Gy</text>
<use href="#bolt" transform="translate(84.4,299.3) scale(1,1)"/>
<line x1="60" y1="298.75" x2="81.25" y2="312.5" stroke="#1a1a1a" stroke-width="0.95" marker-end="url(#ah)"/>
<use href="#mouse" transform="translate(103.1,314.3)"/>
<text x="87.5" y="342.3" font-size="8.06" textLength="27.75" lengthAdjust="spacingAndGlyphs" >DPT KO</text>
<text x="85.75" y="350.6" font-size="8.06" textLength="31.5" lengthAdjust="spacingAndGlyphs" >(CD45.2)</text>
<text x="129.2" y="242.95" font-size="10.2" font-weight="bold" stroke="#111" stroke-width="0.35">H</text>
<line x1="148.5" y1="257.7" x2="148.5" y2="337.4" stroke="#2b2b2b" stroke-width="1.1"/>
<line x1="145.5" y1="258.1" x2="148.5" y2="258.1" stroke="#2b2b2b" stroke-width="1.1"/>
<text x="144" y="261.2" font-size="8.28" text-anchor="end" textLength="12.68" lengthAdjust="spacingAndGlyphs">100</text>
<line x1="145.5" y1="273.9" x2="148.5" y2="273.9" stroke="#2b2b2b" stroke-width="1.1"/>
<text x="144" y="277" font-size="8.28" text-anchor="end" textLength="8.45" lengthAdjust="spacingAndGlyphs">80</text>
<line x1="145.5" y1="289.7" x2="148.5" y2="289.7" stroke="#2b2b2b" stroke-width="1.1"/>
<text x="144" y="292.8" font-size="8.28" text-anchor="end" textLength="8.45" lengthAdjust="spacingAndGlyphs">60</text>
<line x1="145.5" y1="305.4" x2="148.5" y2="305.4" stroke="#2b2b2b" stroke-width="1.1"/>
<text x="144" y="308.5" font-size="8.28" text-anchor="end" textLength="8.45" lengthAdjust="spacingAndGlyphs">40</text>
<line x1="145.5" y1="321.2" x2="148.5" y2="321.2" stroke="#2b2b2b" stroke-width="1.1"/>
<text x="144" y="324.3" font-size="8.28" text-anchor="end" textLength="8.45" lengthAdjust="spacingAndGlyphs">20</text>
<line x1="145.5" y1="337" x2="148.5" y2="337" stroke="#2b2b2b" stroke-width="1.1"/>
<text x="144" y="340.1" font-size="8.28" text-anchor="end" textLength="4.23" lengthAdjust="spacingAndGlyphs">0</text>
<line x1="148" y1="336.9" x2="235.5" y2="336.9" stroke="#2b2b2b" stroke-width="1.1"/>
<text transform="translate(130.6,295.5) rotate(-90)" x="0" y="0" font-size="9.2" text-anchor="middle" textLength="65.2" lengthAdjust="spacingAndGlyphs" stroke="#231f20" stroke-width="0.25">% Donor in PB subsets</text>
<line x1="156.85" y1="310.25" x2="156.85" y2="292.1" stroke="#444" stroke-width="0.8"/>
<line x1="154.75" y1="292.1" x2="158.95" y2="292.1" stroke="#444" stroke-width="0.9"/>
<rect x="153.4" y="310.55" width="6.9" height="26.35" fill="#c8102e" stroke="#3a3a3a" stroke-width="0.6"/>
<line x1="165.85" y1="289.2" x2="165.85" y2="281.6" stroke="#444" stroke-width="0.8"/>
<line x1="163.75" y1="281.6" x2="167.95" y2="281.6" stroke="#444" stroke-width="0.9"/>
<rect x="162.4" y="289.5" width="6.9" height="47.4" fill="#0e4f86" stroke="#3a3a3a" stroke-width="0.6"/>
<line x1="177.5" y1="307.5" x2="177.5" y2="288.5" stroke="#444" stroke-width="0.8"/>
<line x1="175.4" y1="288.5" x2="179.6" y2="288.5" stroke="#444" stroke-width="0.9"/>
<rect x="174.05" y="307.8" width="6.9" height="29.1" fill="#c8102e" stroke="#3a3a3a" stroke-width="0.6"/>
<line x1="186.25" y1="282.4" x2="186.25" y2="273" stroke="#444" stroke-width="0.8"/>
<line x1="184.15" y1="273" x2="188.35" y2="273" stroke="#444" stroke-width="0.9"/>
<rect x="182.55" y="282.7" width="7.4" height="54.2" fill="#0e4f86" stroke="#3a3a3a" stroke-width="0.6"/>
<line x1="198.32" y1="311.25" x2="198.32" y2="292.25" stroke="#444" stroke-width="0.8"/>
<line x1="196.22" y1="292.25" x2="200.42" y2="292.25" stroke="#444" stroke-width="0.9"/>
<rect x="194.7" y="311.55" width="7.25" height="25.35" fill="#c8102e" stroke="#3a3a3a" stroke-width="0.6"/>
<line x1="207.05" y1="289.1" x2="207.05" y2="280.4" stroke="#444" stroke-width="0.8"/>
<line x1="204.95" y1="280.4" x2="209.15" y2="280.4" stroke="#444" stroke-width="0.9"/>
<rect x="203.4" y="289.4" width="7.3" height="47.5" fill="#0e4f86" stroke="#3a3a3a" stroke-width="0.6"/>
<line x1="219.18" y1="316.25" x2="219.18" y2="301" stroke="#444" stroke-width="0.8"/>
<line x1="217.08" y1="301" x2="221.28" y2="301" stroke="#444" stroke-width="0.9"/>
<rect x="215.55" y="316.55" width="7.25" height="20.35" fill="#c8102e" stroke="#3a3a3a" stroke-width="0.6"/>
<line x1="227.95" y1="297.25" x2="227.95" y2="288.75" stroke="#444" stroke-width="0.8"/>
<line x1="225.85" y1="288.75" x2="230.05" y2="288.75" stroke="#444" stroke-width="0.9"/>
<rect x="224.3" y="297.55" width="7.3" height="39.35" fill="#0e4f86" stroke="#3a3a3a" stroke-width="0.6"/>
<path d="M156.6,287.4 V263.6 H165.4 V276.3" fill="none" stroke="#3a3a3a" stroke-width="0.8"/>
<path d="M177.6,283.75 V263.6 H186.3 V268.4" fill="none" stroke="#3a3a3a" stroke-width="0.8"/>
<path d="M198.1,287.25 V263.6 H207.25 V276" fill="none" stroke="#3a3a3a" stroke-width="0.8"/>
<path d="M218.75,295.6 V263.6 H228.1 V283.1" fill="none" stroke="#3a3a3a" stroke-width="0.8"/>
<text x="150.25" y="259.9" font-size="5.82" textLength="19.1" lengthAdjust="spacingAndGlyphs" >0.0007</text>
<text x="171" y="259.9" font-size="5.82" textLength="22.35" lengthAdjust="spacingAndGlyphs" >&lt;0.0001</text>
<text x="194.75" y="259.9" font-size="5.82" textLength="19.25" lengthAdjust="spacingAndGlyphs" >0.0003</text>
<text x="216" y="259.9" font-size="5.82" textLength="18.65" lengthAdjust="spacingAndGlyphs" >0.0024</text>
<text x="151" y="346.25" font-size="8.06" textLength="19.25" lengthAdjust="spacingAndGlyphs" >CD45</text>
<text x="172.25" y="346.25" font-size="8.06" textLength="19.25" lengthAdjust="spacingAndGlyphs" >B220</text>
<text x="194.25" y="346.25" font-size="8.06" textLength="15.5" lengthAdjust="spacingAndGlyphs" >CD3</text>
<text x="216.75" y="346.25" font-size="8.06" textLength="12.25" lengthAdjust="spacingAndGlyphs" >Gr1</text>
<text x="154.75" y="353.9" font-size="8.06" textLength="36.75" lengthAdjust="spacingAndGlyphs" >(20 weeks)</text>
<text x="241.3" y="242.35" font-size="10.2" font-weight="bold" stroke="#111" stroke-width="0.35">I</text>
<text x="275.45" y="252.5" font-size="9.63" textLength="41.1" lengthAdjust="spacingAndGlyphs" >CD45 BM</text>
<line x1="264.9" y1="260.2" x2="264.9" y2="339.1" stroke="#2b2b2b" stroke-width="1.1"/>
<line x1="261.9" y1="260.6" x2="264.9" y2="260.6" stroke="#2b2b2b" stroke-width="1.1"/>
<text x="260.25" y="263.7" font-size="8.28" text-anchor="end" textLength="12.68" lengthAdjust="spacingAndGlyphs">100</text>
<line x1="261.9" y1="276.2" x2="264.9" y2="276.2" stroke="#2b2b2b" stroke-width="1.1"/>
<text x="260.25" y="279.3" font-size="8.28" text-anchor="end" textLength="8.45" lengthAdjust="spacingAndGlyphs">80</text>
<line x1="261.9" y1="291.8" x2="264.9" y2="291.8" stroke="#2b2b2b" stroke-width="1.1"/>
<text x="260.25" y="294.9" font-size="8.28" text-anchor="end" textLength="8.45" lengthAdjust="spacingAndGlyphs">60</text>
<line x1="261.9" y1="307.4" x2="264.9" y2="307.4" stroke="#2b2b2b" stroke-width="1.1"/>
<text x="260.25" y="310.5" font-size="8.28" text-anchor="end" textLength="8.45" lengthAdjust="spacingAndGlyphs">40</text>
<line x1="261.9" y1="323" x2="264.9" y2="323" stroke="#2b2b2b" stroke-width="1.1"/>
<text x="260.25" y="326.1" font-size="8.28" text-anchor="end" textLength="8.45" lengthAdjust="spacingAndGlyphs">20</text>
<line x1="261.9" y1="338.6" x2="264.9" y2="338.6" stroke="#2b2b2b" stroke-width="1.1"/>
<text x="260.25" y="341.7" font-size="8.28" text-anchor="end" textLength="4.23" lengthAdjust="spacingAndGlyphs">0</text>
<line x1="264.4" y1="338.6" x2="326.1" y2="338.6" stroke="#2b2b2b" stroke-width="1.1"/>
<line x1="284.25" y1="338.6" x2="284.25" y2="341.9" stroke="#2b2b2b" stroke-width="1.1"/>
<line x1="313.25" y1="338.6" x2="313.25" y2="341.9" stroke="#2b2b2b" stroke-width="1.1"/>
<text transform="translate(247,299.55) rotate(-90)" x="0" y="0" font-size="9.2" text-anchor="middle" textLength="53.7" lengthAdjust="spacingAndGlyphs" stroke="#231f20" stroke-width="0.25">% Donor CD45 MB</text>
<path d="M284.25,301.25 V276.5 H313.25 V281.75" fill="none" stroke="#3a3a3a" stroke-width="0.8"/>
<text x="286.5" y="273" font-size="8.06" textLength="23.85" lengthAdjust="spacingAndGlyphs" >0.0017</text>
<text x="276.95" y="349.7" font-size="8.06" textLength="11.8" lengthAdjust="spacingAndGlyphs" >WT</text>
<text x="299.95" y="349.7" font-size="8.06" textLength="27.1" lengthAdjust="spacingAndGlyphs" >DPT KO</text>
<line x1="284.25" y1="313" x2="284.25" y2="337.4" stroke="#cf2a44" stroke-width="1"/>
<line x1="274.55" y1="325.5" x2="293.95" y2="325.5" stroke="#cf2a44" stroke-width="1"/>
<line x1="279.05" y1="313" x2="289.45" y2="313" stroke="#cf2a44" stroke-width="1"/>
<line x1="279.05" y1="337.4" x2="289.45" y2="337.4" stroke="#cf2a44" stroke-width="1"/>
<circle cx="280.1" cy="306.75" r="1.3" fill="#c8102e"/>
<circle cx="288.25" cy="306.1" r="1.3" fill="#c8102e"/>
<circle cx="292.4" cy="310.5" r="1.3" fill="#c8102e"/>
<circle cx="284.25" cy="312.4" r="1.3" fill="#c8102e"/>
<circle cx="284.25" cy="321.1" r="1.3" fill="#c8102e"/>
<circle cx="276" cy="329.5" r="1.3" fill="#c8102e"/>
<circle cx="284.25" cy="327.75" r="1.3" fill="#c8102e"/>
<circle cx="292.6" cy="330.5" r="1.3" fill="#c8102e"/>
<circle cx="284.25" cy="334.25" r="1.3" fill="#c8102e"/>
<circle cx="292.6" cy="334.25" r="1.3" fill="#c8102e"/>
<circle cx="276" cy="338.4" r="1.3" fill="#c8102e"/>
<circle cx="284.25" cy="337.75" r="1.3" fill="#c8102e"/>
<circle cx="292.6" cy="338.6" r="1.3" fill="#c8102e"/>
<line x1="313.25" y1="292.6" x2="313.25" y2="321.5" stroke="#23609c" stroke-width="1"/>
<line x1="303.55" y1="307.4" x2="322.95" y2="307.4" stroke="#23609c" stroke-width="1"/>
<line x1="307.95" y1="292.6" x2="318.55" y2="292.6" stroke="#23609c" stroke-width="1"/>
<line x1="307.95" y1="321.5" x2="318.55" y2="321.5" stroke="#23609c" stroke-width="1"/>
<circle cx="313.25" cy="286.5" r="1.3" fill="#0b4a88"/>
<circle cx="313.25" cy="290.25" r="1.3" fill="#0b4a88"/>
<circle cx="313.25" cy="293.9" r="1.3" fill="#0b4a88"/>
<circle cx="309.5" cy="297.4" r="1.3" fill="#0b4a88"/>
<circle cx="316.6" cy="297" r="1.3" fill="#0b4a88"/>
<circle cx="309.5" cy="301.5" r="1.3" fill="#0b4a88"/>
<circle cx="316.6" cy="301.1" r="1.3" fill="#0b4a88"/>
<circle cx="309.9" cy="308" r="1.3" fill="#0b4a88"/>
<circle cx="316.6" cy="308.6" r="1.3" fill="#0b4a88"/>
<circle cx="309.9" cy="318" r="1.3" fill="#0b4a88"/>
<circle cx="316.6" cy="319.5" r="1.3" fill="#0b4a88"/>
<circle cx="313.25" cy="323.4" r="1.3" fill="#0b4a88"/>
<circle cx="309.9" cy="329.25" r="1.3" fill="#0b4a88"/>
<circle cx="316.6" cy="328.4" r="1.3" fill="#0b4a88"/>
<text x="339.3" y="241.45" font-size="10.2" font-weight="bold" stroke="#111" stroke-width="0.35">J</text>
<text x="381" y="250" font-size="9.63" textLength="16.75" lengthAdjust="spacingAndGlyphs" >LSK</text>
<line x1="365.2" y1="260.2" x2="365.2" y2="339.9" stroke="#2b2b2b" stroke-width="1.1"/>
<line x1="362.2" y1="260.6" x2="365.2" y2="260.6" stroke="#2b2b2b" stroke-width="1.1"/>
<text x="360.85" y="263.7" font-size="8.28" text-anchor="end" textLength="12.68" lengthAdjust="spacingAndGlyphs">100</text>
<line x1="362.2" y1="276.3" x2="365.2" y2="276.3" stroke="#2b2b2b" stroke-width="1.1"/>
<text x="360.85" y="279.4" font-size="8.28" text-anchor="end" textLength="8.45" lengthAdjust="spacingAndGlyphs">80</text>
<line x1="362.2" y1="292.1" x2="365.2" y2="292.1" stroke="#2b2b2b" stroke-width="1.1"/>
<text x="360.85" y="295.2" font-size="8.28" text-anchor="end" textLength="8.45" lengthAdjust="spacingAndGlyphs">60</text>
<line x1="362.2" y1="307.9" x2="365.2" y2="307.9" stroke="#2b2b2b" stroke-width="1.1"/>
<text x="360.85" y="311" font-size="8.28" text-anchor="end" textLength="8.45" lengthAdjust="spacingAndGlyphs">40</text>
<line x1="362.2" y1="323.6" x2="365.2" y2="323.6" stroke="#2b2b2b" stroke-width="1.1"/>
<text x="360.85" y="326.7" font-size="8.28" text-anchor="end" textLength="8.45" lengthAdjust="spacingAndGlyphs">20</text>
<line x1="362.2" y1="339.4" x2="365.2" y2="339.4" stroke="#2b2b2b" stroke-width="1.1"/>
<text x="360.85" y="342.5" font-size="8.28" text-anchor="end" textLength="4.23" lengthAdjust="spacingAndGlyphs">0</text>
<line x1="364.7" y1="339.4" x2="420.1" y2="339.4" stroke="#2b2b2b" stroke-width="1.1"/>
<line x1="381.1" y1="339.4" x2="381.1" y2="342.7" stroke="#2b2b2b" stroke-width="1.1"/>
<line x1="404.9" y1="339.4" x2="404.9" y2="342.7" stroke="#2b2b2b" stroke-width="1.1"/>
<text transform="translate(336.8,300.7) rotate(-90)" x="0" y="0" font-size="9.2" text-anchor="middle" textLength="53.8" lengthAdjust="spacingAndGlyphs" stroke="#231f20" stroke-width="0.25">% CD45.1/2 donor</text>
<text transform="translate(348,300.45) rotate(-90)" x="0" y="0" font-size="9.2" text-anchor="middle" textLength="55.5" lengthAdjust="spacingAndGlyphs" stroke="#231f20" stroke-width="0.25">contribution to LSK</text>
<path d="M381.1,290.6 V281 H404.9 V285.6" fill="none" stroke="#3a3a3a" stroke-width="0.8"/>
<text x="380.5" y="276.25" font-size="8.06" textLength="24.85" lengthAdjust="spacingAndGlyphs" >0.0023</text>
<text x="373.75" y="349.7" font-size="8.06" textLength="12.3" lengthAdjust="spacingAndGlyphs" >WT</text>
<text x="391.05" y="349.7" font-size="8.06" textLength="27.9" lengthAdjust="spacingAndGlyphs" >DPT KO</text>
<line x1="381.1" y1="312.5" x2="381.1" y2="338.1" stroke="#cf2a44" stroke-width="1"/>
<line x1="372.85" y1="325.25" x2="389.35" y2="325.25" stroke="#cf2a44" stroke-width="1"/>
<line x1="377.6" y1="312.5" x2="384.6" y2="312.5" stroke="#cf2a44" stroke-width="1"/>
<line x1="377.6" y1="338.1" x2="384.6" y2="338.1" stroke="#cf2a44" stroke-width="1"/>
<circle cx="381.1" cy="295.6" r="1.3" fill="#c8102e"/>
<circle cx="378" cy="312.5" r="1.3" fill="#c8102e"/>
<circle cx="384.25" cy="312.1" r="1.3" fill="#c8102e"/>
<circle cx="381.1" cy="315.25" r="1.3" fill="#c8102e"/>
<circle cx="378.9" cy="319.4" r="1.3" fill="#c8102e"/>
<circle cx="383.5" cy="319.4" r="1.3" fill="#c8102e"/>
<circle cx="381.1" cy="323.1" r="1.3" fill="#c8102e"/>
<circle cx="376.75" cy="327.25" r="1.3" fill="#c8102e"/>
<circle cx="381.1" cy="328.5" r="1.3" fill="#c8102e"/>
<circle cx="385.5" cy="327.75" r="1.3" fill="#c8102e"/>
<circle cx="381.1" cy="333.1" r="1.3" fill="#c8102e"/>
<circle cx="378.25" cy="337.5" r="1.3" fill="#c8102e"/>
<circle cx="374.75" cy="339.6" r="1.3" fill="#c8102e"/>
<circle cx="383.9" cy="339.4" r="1.3" fill="#c8102e"/>
<circle cx="387.6" cy="339.4" r="1.3" fill="#c8102e"/>
<line x1="404.9" y1="301.9" x2="404.9" y2="321" stroke="#23609c" stroke-width="1"/>
<line x1="396.8" y1="311.25" x2="413" y2="311.25" stroke="#23609c" stroke-width="1"/>
<line x1="400.3" y1="301.9" x2="409.5" y2="301.9" stroke="#23609c" stroke-width="1"/>
<line x1="400.3" y1="321" x2="409.5" y2="321" stroke="#23609c" stroke-width="1"/>
<circle cx="404.9" cy="290.25" r="1.3" fill="#0b4a88"/>
<circle cx="402" cy="304.4" r="1.3" fill="#0b4a88"/>
<circle cx="408.25" cy="302.25" r="1.3" fill="#0b4a88"/>
<circle cx="398.25" cy="306.25" r="1.3" fill="#0b4a88"/>
<circle cx="404.9" cy="306.25" r="1.3" fill="#0b4a88"/>
<circle cx="411.4" cy="303.75" r="1.3" fill="#0b4a88"/>
<circle cx="408.25" cy="306.25" r="1.3" fill="#0b4a88"/>
<circle cx="402" cy="308.1" r="1.3" fill="#0b4a88"/>
<circle cx="404.9" cy="311" r="1.3" fill="#0b4a88"/>
<circle cx="398.25" cy="316.5" r="1.3" fill="#0b4a88"/>
<circle cx="402" cy="316.5" r="1.3" fill="#0b4a88"/>
<circle cx="404.9" cy="316" r="1.3" fill="#0b4a88"/>
<circle cx="408" cy="317.5" r="1.3" fill="#0b4a88"/>
<circle cx="411.4" cy="315.25" r="1.3" fill="#0b4a88"/>
<circle cx="404.9" cy="325.4" r="1.3" fill="#0b4a88"/>
<circle cx="404.9" cy="328.5" r="1.3" fill="#0b4a88"/>
<text x="430.8" y="242.95" font-size="10.2" font-weight="bold" stroke="#111" stroke-width="0.35">K</text>
<text x="471.75" y="250.25" font-size="9.63" textLength="42.8" lengthAdjust="spacingAndGlyphs" >LSK-SLAM</text>
<line x1="456.8" y1="260.2" x2="456.8" y2="340.25" stroke="#2b2b2b" stroke-width="1.1"/>
<line x1="453.8" y1="260.6" x2="456.8" y2="260.6" stroke="#2b2b2b" stroke-width="1.1"/>
<text x="451.5" y="263.7" font-size="8.28" text-anchor="end" textLength="12.68" lengthAdjust="spacingAndGlyphs">100</text>
<line x1="453.8" y1="276.4" x2="456.8" y2="276.4" stroke="#2b2b2b" stroke-width="1.1"/>
<text x="451.5" y="279.5" font-size="8.28" text-anchor="end" textLength="8.45" lengthAdjust="spacingAndGlyphs">80</text>
<line x1="453.8" y1="292.2" x2="456.8" y2="292.2" stroke="#2b2b2b" stroke-width="1.1"/>
<text x="451.5" y="295.3" font-size="8.28" text-anchor="end" textLength="8.45" lengthAdjust="spacingAndGlyphs">60</text>
<line x1="453.8" y1="308" x2="456.8" y2="308" stroke="#2b2b2b" stroke-width="1.1"/>
<text x="451.5" y="311.1" font-size="8.28" text-anchor="end" textLength="8.45" lengthAdjust="spacingAndGlyphs">40</text>
<line x1="453.8" y1="323.9" x2="456.8" y2="323.9" stroke="#2b2b2b" stroke-width="1.1"/>
<text x="451.5" y="327" font-size="8.28" text-anchor="end" textLength="8.45" lengthAdjust="spacingAndGlyphs">20</text>
<line x1="453.8" y1="339.75" x2="456.8" y2="339.75" stroke="#2b2b2b" stroke-width="1.1"/>
<text x="451.5" y="342.85" font-size="8.28" text-anchor="end" textLength="4.23" lengthAdjust="spacingAndGlyphs">0</text>
<line x1="456.3" y1="339.75" x2="515.75" y2="339.75" stroke="#2b2b2b" stroke-width="1.1"/>
<line x1="474.25" y1="339.75" x2="474.25" y2="343.05" stroke="#2b2b2b" stroke-width="1.1"/>
<line x1="500.5" y1="339.75" x2="500.5" y2="343.05" stroke="#2b2b2b" stroke-width="1.1"/>
<text transform="translate(427.3,300.75) rotate(-90)" x="0" y="0" font-size="9.2" text-anchor="middle" textLength="54.3" lengthAdjust="spacingAndGlyphs" stroke="#231f20" stroke-width="0.25">% CD45.1/2 donor</text>
<text transform="translate(438.2,300.15) rotate(-90)" x="0" y="0" font-size="9.2" text-anchor="middle" textLength="74.1" lengthAdjust="spacingAndGlyphs" stroke="#231f20" stroke-width="0.25">contribution to LSK-SLAM</text>
<path d="M474.25,322.5 V302.9 H500.5 V307.5" fill="none" stroke="#3a3a3a" stroke-width="0.8"/>
<text x="473.65" y="299" font-size="8.06" textLength="24.85" lengthAdjust="spacingAndGlyphs" >0.0002</text>
<text x="466.95" y="349.7" font-size="8.06" textLength="11.8" lengthAdjust="spacingAndGlyphs" >WT</text>
<text x="486.55" y="349.7" font-size="8.06" textLength="27.9" lengthAdjust="spacingAndGlyphs" >DPT KO</text>
<line x1="474.25" y1="329" x2="474.25" y2="337.5" stroke="#cf2a44" stroke-width="1"/>
<line x1="466.15" y1="333.1" x2="482.35" y2="333.1" stroke="#cf2a44" stroke-width="1"/>
<line x1="471.25" y1="329" x2="477.25" y2="329" stroke="#cf2a44" stroke-width="1"/>
<line x1="471.25" y1="337.5" x2="477.25" y2="337.5" stroke="#cf2a44" stroke-width="1"/>
<circle cx="466.75" cy="327.9" r="1.3" fill="#c8102e"/>
<circle cx="470.5" cy="327.9" r="1.3" fill="#c8102e"/>
<circle cx="474.25" cy="327.9" r="1.3" fill="#c8102e"/>
<circle cx="478" cy="327.9" r="1.3" fill="#c8102e"/>
<circle cx="481.75" cy="327.9" r="1.3" fill="#c8102e"/>
<circle cx="472" cy="329" r="1.3" fill="#c8102e"/>
<circle cx="475.75" cy="329" r="1.3" fill="#c8102e"/>
<circle cx="474.25" cy="331.25" r="1.3" fill="#c8102e"/>
<circle cx="474.25" cy="334.4" r="1.3" fill="#c8102e"/>
<circle cx="468.25" cy="337.75" r="1.3" fill="#c8102e"/>
<circle cx="472" cy="337.75" r="1.3" fill="#c8102e"/>
<circle cx="475.75" cy="337.75" r="1.3" fill="#c8102e"/>
<circle cx="479.5" cy="337.75" r="1.3" fill="#c8102e"/>
<circle cx="472" cy="339.6" r="1.3" fill="#c8102e"/>
<circle cx="474.25" cy="339.6" r="1.3" fill="#c8102e"/>
<circle cx="480.75" cy="339.6" r="1.3" fill="#c8102e"/>
<line x1="500.5" y1="316.25" x2="500.5" y2="330.6" stroke="#23609c" stroke-width="1"/>
<line x1="492.2" y1="323.5" x2="508.8" y2="323.5" stroke="#23609c" stroke-width="1"/>
<line x1="496.75" y1="316.25" x2="504.25" y2="316.25" stroke="#23609c" stroke-width="1"/>
<line x1="496.75" y1="330.6" x2="504.25" y2="330.6" stroke="#23609c" stroke-width="1"/>
<circle cx="500.5" cy="312.25" r="1.3" fill="#0b4a88"/>
<circle cx="503.9" cy="313.5" r="1.3" fill="#0b4a88"/>
<circle cx="496.75" cy="316.5" r="1.3" fill="#0b4a88"/>
<circle cx="500.5" cy="316.9" r="1.3" fill="#0b4a88"/>
<circle cx="504.25" cy="317.25" r="1.3" fill="#0b4a88"/>
<circle cx="500.5" cy="319.75" r="1.3" fill="#0b4a88"/>
<circle cx="493.25" cy="323.75" r="1.3" fill="#0b4a88"/>
<circle cx="496.75" cy="324" r="1.3" fill="#0b4a88"/>
<circle cx="500.5" cy="323.75" r="1.3" fill="#0b4a88"/>
<circle cx="504.25" cy="324.4" r="1.3" fill="#0b4a88"/>
<circle cx="496.75" cy="327.5" r="1.3" fill="#0b4a88"/>
<circle cx="500.5" cy="326.9" r="1.3" fill="#0b4a88"/>
<circle cx="507.6" cy="327.25" r="1.3" fill="#0b4a88"/>
<circle cx="496.75" cy="331.5" r="1.3" fill="#0b4a88"/>
<circle cx="500.5" cy="330.6" r="1.3" fill="#0b4a88"/>
<circle cx="504.25" cy="330.6" r="1.3" fill="#0b4a88"/>
<text x="8.55" y="369.25" font-size="10.2" font-weight="bold" stroke="#111" stroke-width="0.35">L</text>
<use href="#cell" transform="translate(21.9,420.25) scale(0.9)"/>
<use href="#cell" transform="translate(29.4,415.25) scale(0.9)"/>
<use href="#cell" transform="translate(37.25,412.25) scale(0.9)"/>
<use href="#cell" transform="translate(46.5,417.25) scale(0.9)"/>
<use href="#cell" transform="translate(28.5,423.1) scale(0.9)"/>
<use href="#cell" transform="translate(37.25,422.25) scale(0.9)"/>
<text x="17.05" y="437.3" font-size="8.06" textLength="35.2" lengthAdjust="spacingAndGlyphs" >1500 LSK</text>
<text x="17.05" y="445.8" font-size="8.06" textLength="35.2" lengthAdjust="spacingAndGlyphs" >CD45.1/.2</text>
<line x1="53.75" y1="428.75" x2="87.5" y2="397" stroke="#1a1a1a" stroke-width="0.95" marker-end="url(#ah)"/>
<line x1="53.75" y1="428.75" x2="95" y2="445" stroke="#1a1a1a" stroke-width="0.95" marker-end="url(#ah)"/>
<text x="79.75" y="376.75" font-size="8.06" textLength="22.75" lengthAdjust="spacingAndGlyphs" >4.5 Gy</text>
<use href="#bolt" transform="translate(91,379.2) scale(1,1)"/>
<use href="#mouse" transform="translate(108.75,393.3)"/>
<text x="94.75" y="420.75" font-size="8.06" textLength="26.75" lengthAdjust="spacingAndGlyphs" >CD45.2</text>
<line x1="123" y1="400.2" x2="160.4" y2="400.2" stroke="#1a1a1a" stroke-width="1.1" marker-end="url(#ah)"/>
<text x="121.55" y="408.5" font-size="5.94" textLength="39.5" lengthAdjust="spacingAndGlyphs" >5 million WBM</text>
<text x="148.65" y="373.2" font-size="8.06" textLength="20.5" lengthAdjust="spacingAndGlyphs" >10 Gy</text>
<use href="#bolt" transform="translate(157.7,375.6) scale(1,1)"/>
<use href="#mouse" transform="translate(175.4,389.2)"/>
<text x="162.05" y="417.4" font-size="8.06" textLength="26.7" lengthAdjust="spacingAndGlyphs" >CD45.2</text>
<text x="84.15" y="430.5" font-size="8.06" textLength="23" lengthAdjust="spacingAndGlyphs" >4.5 Gy</text>
<use href="#bolt" transform="translate(95.25,432.6) scale(1,1)"/>
<use href="#mouse" transform="translate(112.75,447.2)"/>
<line x1="123.75" y1="451.6" x2="158.6" y2="451.6" stroke="#1a1a1a" stroke-width="1.1" marker-end="url(#ah)"/>
<text x="123.5" y="460" font-size="5.94" textLength="39.5" lengthAdjust="spacingAndGlyphs" >5 million WBM</text>
<text x="152.25" y="430.25" font-size="8.06" textLength="20.75" lengthAdjust="spacingAndGlyphs" >10 Gy</text>
<use href="#bolt" transform="translate(161.9,432.6) scale(1,1)"/>
<use href="#mouse" transform="translate(179.4,446.8)"/>
<text x="165.75" y="474.4" font-size="8.06" textLength="26.4" lengthAdjust="spacingAndGlyphs" >CD45.2</text>
<text x="97" y="474.4" font-size="8.06" textLength="27.65" lengthAdjust="spacingAndGlyphs" >DPT KO</text>
<text x="94.75" y="483.75" font-size="8.06" textLength="31.75" lengthAdjust="spacingAndGlyphs" >(CD45.2)</text>
<text x="86.65" y="492.5" font-size="8.06" textLength="41.7" lengthAdjust="spacingAndGlyphs" >Primary HCT</text>
<text x="146.65" y="492.5" font-size="8.06" textLength="52.6" lengthAdjust="spacingAndGlyphs" >Secondary HCT</text>
<text x="212.9" y="369.25" font-size="10.2" font-weight="bold" stroke="#111" stroke-width="0.35">M</text>
<text x="232.5" y="380.6" font-size="9.63" textLength="67.25" lengthAdjust="spacingAndGlyphs" >PBMC 20 weeks</text>
<line x1="235.25" y1="394.35" x2="235.25" y2="469.9" stroke="#2b2b2b" stroke-width="1.1"/>
<line x1="232.25" y1="394.75" x2="235.25" y2="394.75" stroke="#2b2b2b" stroke-width="1.1"/>
<text x="230" y="397.85" font-size="8.28" text-anchor="end" textLength="10.56" lengthAdjust="spacingAndGlyphs">3.0</text>
<line x1="232.25" y1="407.2" x2="235.25" y2="407.2" stroke="#2b2b2b" stroke-width="1.1"/>
<text x="230" y="410.3" font-size="8.28" text-anchor="end" textLength="10.56" lengthAdjust="spacingAndGlyphs">2.5</text>
<line x1="232.25" y1="419.6" x2="235.25" y2="419.6" stroke="#2b2b2b" stroke-width="1.1"/>
<text x="230" y="422.7" font-size="8.28" text-anchor="end" textLength="10.56" lengthAdjust="spacingAndGlyphs">2.0</text>
<line x1="232.25" y1="432.1" x2="235.25" y2="432.1" stroke="#2b2b2b" stroke-width="1.1"/>
<text x="230" y="435.2" font-size="8.28" text-anchor="end" textLength="10.56" lengthAdjust="spacingAndGlyphs">1.5</text>
<line x1="232.25" y1="444.6" x2="235.25" y2="444.6" stroke="#2b2b2b" stroke-width="1.1"/>
<text x="230" y="447.7" font-size="8.28" text-anchor="end" textLength="10.56" lengthAdjust="spacingAndGlyphs">1.0</text>
<line x1="232.25" y1="457" x2="235.25" y2="457" stroke="#2b2b2b" stroke-width="1.1"/>
<text x="230" y="460.1" font-size="8.28" text-anchor="end" textLength="10.56" lengthAdjust="spacingAndGlyphs">0.5</text>
<line x1="232.25" y1="469.4" x2="235.25" y2="469.4" stroke="#2b2b2b" stroke-width="1.1"/>
<text x="230" y="472.5" font-size="8.28" text-anchor="end" textLength="10.56" lengthAdjust="spacingAndGlyphs">0.0</text>
<line x1="234.75" y1="469.6" x2="304.2" y2="469.6" stroke="#2b2b2b" stroke-width="1.1"/>
<line x1="254.7" y1="469.6" x2="254.7" y2="472.9" stroke="#2b2b2b" stroke-width="1.1"/>
<line x1="284.75" y1="469.6" x2="284.75" y2="472.9" stroke="#2b2b2b" stroke-width="1.1"/>
<text transform="translate(216.7,430.95) rotate(-90)" x="0" y="0" font-size="9.2" text-anchor="middle" textLength="45.3" lengthAdjust="spacingAndGlyphs" stroke="#231f20" stroke-width="0.25">% Donor PBMC</text>
<path d="M254.75,436.9 V392.5 H285.1 V397.5" fill="none" stroke="#3a3a3a" stroke-width="0.8"/>
<text x="257.35" y="388.75" font-size="8.06" textLength="24.9" lengthAdjust="spacingAndGlyphs" >0.0516</text>
<text x="247.85" y="481.25" font-size="8.06" textLength="12.4" lengthAdjust="spacingAndGlyphs" >WT</text>
<text x="271" y="481.25" font-size="8.06" textLength="27.65" lengthAdjust="spacingAndGlyphs" >DPT KO</text>
<text x="252" y="490.8" font-size="8.6" textLength="35.5" lengthAdjust="spacingAndGlyphs" stroke="#231f20" stroke-width="0.2">Primary HCT</text>
<line x1="254.6" y1="447.5" x2="254.6" y2="463.1" stroke="#cf2a44" stroke-width="1"/>
<line x1="245.1" y1="455.6" x2="264.1" y2="455.6" stroke="#cf2a44" stroke-width="1"/>
<line x1="249.4" y1="447.5" x2="259.8" y2="447.5" stroke="#cf2a44" stroke-width="1"/>
<line x1="249.4" y1="463.1" x2="259.8" y2="463.1" stroke="#cf2a44" stroke-width="1"/>
<circle cx="254.6" cy="441.6" r="1.3" fill="#c8102e"/>
<circle cx="254.6" cy="447.5" r="1.3" fill="#c8102e"/>
<circle cx="246.6" cy="451.9" r="1.3" fill="#c8102e"/>
<circle cx="252.25" cy="450.9" r="1.3" fill="#c8102e"/>
<circle cx="257.75" cy="451.9" r="1.3" fill="#c8102e"/>
<circle cx="263.1" cy="450.6" r="1.3" fill="#c8102e"/>
<circle cx="254.6" cy="458.75" r="1.3" fill="#c8102e"/>
<circle cx="252.25" cy="462.75" r="1.3" fill="#c8102e"/>
<circle cx="257.75" cy="462.75" r="1.3" fill="#c8102e"/>
<circle cx="263.1" cy="462.5" r="1.3" fill="#c8102e"/>
<circle cx="246.6" cy="465.25" r="1.3" fill="#c8102e"/>
<line x1="284.75" y1="423.1" x2="284.75" y2="459.75" stroke="#23609c" stroke-width="1"/>
<line x1="275.05" y1="441.4" x2="294.45" y2="441.4" stroke="#23609c" stroke-width="1"/>
<line x1="279.55" y1="423.1" x2="289.95" y2="423.1" stroke="#23609c" stroke-width="1"/>
<line x1="279.55" y1="459.75" x2="289.95" y2="459.75" stroke="#23609c" stroke-width="1"/>
<circle cx="284.75" cy="401.5" r="1.3" fill="#0b4a88"/>
<circle cx="281.25" cy="437.9" r="1.3" fill="#0b4a88"/>
<circle cx="288.1" cy="437.9" r="1.3" fill="#0b4a88"/>
<circle cx="281.25" cy="442.25" r="1.3" fill="#0b4a88"/>
<circle cx="288.1" cy="443.75" r="1.3" fill="#0b4a88"/>
<circle cx="284.75" cy="450" r="1.3" fill="#0b4a88"/>
<circle cx="284.75" cy="454.1" r="1.3" fill="#0b4a88"/>
<circle cx="284.75" cy="464" r="1.3" fill="#0b4a88"/>
<text x="320.4" y="369.25" font-size="10.2" font-weight="bold" stroke="#111" stroke-width="0.35">N</text>
<text x="368.45" y="380.9" font-size="9.63" textLength="17.8" lengthAdjust="spacingAndGlyphs" >LSK</text>
<line x1="344.6" y1="395.5" x2="344.6" y2="470.75" stroke="#2b2b2b" stroke-width="1.1"/>
<line x1="341.6" y1="395.9" x2="344.6" y2="395.9" stroke="#2b2b2b" stroke-width="1.1"/>
<text x="340" y="399" font-size="8.28" text-anchor="end" textLength="10.56" lengthAdjust="spacingAndGlyphs">2.5</text>
<line x1="341.6" y1="410.8" x2="344.6" y2="410.8" stroke="#2b2b2b" stroke-width="1.1"/>
<text x="340" y="413.9" font-size="8.28" text-anchor="end" textLength="10.56" lengthAdjust="spacingAndGlyphs">2.0</text>
<line x1="341.6" y1="425.6" x2="344.6" y2="425.6" stroke="#2b2b2b" stroke-width="1.1"/>
<text x="340" y="428.7" font-size="8.28" text-anchor="end" textLength="10.56" lengthAdjust="spacingAndGlyphs">1.5</text>
<line x1="341.6" y1="440.5" x2="344.6" y2="440.5" stroke="#2b2b2b" stroke-width="1.1"/>
<text x="340" y="443.6" font-size="8.28" text-anchor="end" textLength="10.56" lengthAdjust="spacingAndGlyphs">1.0</text>
<line x1="341.6" y1="455.4" x2="344.6" y2="455.4" stroke="#2b2b2b" stroke-width="1.1"/>
<text x="340" y="458.5" font-size="8.28" text-anchor="end" textLength="10.56" lengthAdjust="spacingAndGlyphs">0.5</text>
<line x1="341.6" y1="470.25" x2="344.6" y2="470.25" stroke="#2b2b2b" stroke-width="1.1"/>
<text x="340" y="473.35" font-size="8.28" text-anchor="end" textLength="10.56" lengthAdjust="spacingAndGlyphs">0.0</text>
<line x1="344.1" y1="470.25" x2="411.5" y2="470.25" stroke="#2b2b2b" stroke-width="1.1"/>
<line x1="363.4" y1="470.25" x2="363.4" y2="473.55" stroke="#2b2b2b" stroke-width="1.1"/>
<line x1="391.6" y1="470.25" x2="391.6" y2="473.55" stroke="#2b2b2b" stroke-width="1.1"/>
<text transform="translate(314.3,428.35) rotate(-90)" x="0" y="0" font-size="9.2" text-anchor="middle" textLength="53.5" lengthAdjust="spacingAndGlyphs" stroke="#231f20" stroke-width="0.25">% CD45.1/2 donor</text>
<text transform="translate(325.2,428.05) rotate(-90)" x="0" y="0" font-size="9.2" text-anchor="middle" textLength="55.1" lengthAdjust="spacingAndGlyphs" stroke="#231f20" stroke-width="0.25">contribution to LSK</text>
<path d="M363.5,441.9 V395.25 H391.6 V399.4" fill="none" stroke="#3a3a3a" stroke-width="0.8"/>
<text x="365.5" y="391.9" font-size="8.06" textLength="24.25" lengthAdjust="spacingAndGlyphs" >0.0291</text>
<text x="356" y="481.9" font-size="8.06" textLength="12.75" lengthAdjust="spacingAndGlyphs" >WT</text>
<text x="377.85" y="481.9" font-size="8.06" textLength="27.7" lengthAdjust="spacingAndGlyphs" >DPT KO</text>
<text x="360.4" y="490.8" font-size="8.6" textLength="35.4" lengthAdjust="spacingAndGlyphs" stroke="#231f20" stroke-width="0.2">Primary HCT</text>
<line x1="363.4" y1="456.9" x2="363.4" y2="470" stroke="#cf2a44" stroke-width="1"/>
<line x1="353.6" y1="463.5" x2="373.2" y2="463.5" stroke="#cf2a44" stroke-width="1"/>
<line x1="358.1" y1="456.9" x2="368.7" y2="456.9" stroke="#cf2a44" stroke-width="1"/>
<line x1="358.1" y1="470" x2="368.7" y2="470" stroke="#cf2a44" stroke-width="1"/>
<circle cx="363.4" cy="446.25" r="1.3" fill="#c8102e"/>
<circle cx="363.4" cy="460" r="1.3" fill="#c8102e"/>
<circle cx="359.6" cy="465.25" r="1.3" fill="#c8102e"/>
<circle cx="363.4" cy="464" r="1.3" fill="#c8102e"/>
<circle cx="367.75" cy="463.5" r="1.3" fill="#c8102e"/>
<circle cx="371.9" cy="465" r="1.3" fill="#c8102e"/>
<circle cx="367.75" cy="466.6" r="1.3" fill="#c8102e"/>
<circle cx="355.6" cy="468.5" r="1.3" fill="#c8102e"/>
<circle cx="363.4" cy="468.1" r="1.3" fill="#c8102e"/>
<circle cx="371.9" cy="469.4" r="1.3" fill="#c8102e"/>
<line x1="391.6" y1="425.75" x2="391.6" y2="468.5" stroke="#23609c" stroke-width="1"/>
<line x1="382.2" y1="447.5" x2="401" y2="447.5" stroke="#23609c" stroke-width="1"/>
<line x1="386.6" y1="425.75" x2="396.6" y2="425.75" stroke="#23609c" stroke-width="1"/>
<line x1="386.6" y1="468.5" x2="396.6" y2="468.5" stroke="#23609c" stroke-width="1"/>
<circle cx="391.6" cy="403.5" r="1.3" fill="#0b4a88"/>
<circle cx="391.6" cy="416" r="1.3" fill="#0b4a88"/>
<circle cx="391.6" cy="441.25" r="1.3" fill="#0b4a88"/>
<circle cx="391.6" cy="448.75" r="1.3" fill="#0b4a88"/>
<circle cx="383.75" cy="455.4" r="1.3" fill="#0b4a88"/>
<circle cx="391.6" cy="456" r="1.3" fill="#0b4a88"/>
<circle cx="399.4" cy="455.4" r="1.3" fill="#0b4a88"/>
<circle cx="399.4" cy="462.1" r="1.3" fill="#0b4a88"/>
<circle cx="391.6" cy="464.75" r="1.3" fill="#0b4a88"/>
<text x="425.4" y="369.25" font-size="10.2" font-weight="bold" stroke="#111" stroke-width="0.35">O</text>
<text x="443.35" y="383.75" font-size="9.63" textLength="67.7" lengthAdjust="spacingAndGlyphs" >PBMC 20 weeks</text>
<line x1="446.4" y1="395.6" x2="446.4" y2="471.5" stroke="#2b2b2b" stroke-width="1.1"/>
<line x1="443.4" y1="396" x2="446.4" y2="396" stroke="#2b2b2b" stroke-width="1.1"/>
<text x="441.5" y="399.1" font-size="8.28" text-anchor="end" textLength="4.23" lengthAdjust="spacingAndGlyphs">8</text>
<line x1="443.4" y1="414.75" x2="446.4" y2="414.75" stroke="#2b2b2b" stroke-width="1.1"/>
<text x="441.5" y="417.85" font-size="8.28" text-anchor="end" textLength="4.23" lengthAdjust="spacingAndGlyphs">6</text>
<line x1="443.4" y1="433.5" x2="446.4" y2="433.5" stroke="#2b2b2b" stroke-width="1.1"/>
<text x="441.5" y="436.6" font-size="8.28" text-anchor="end" textLength="4.23" lengthAdjust="spacingAndGlyphs">4</text>
<line x1="443.4" y1="452.25" x2="446.4" y2="452.25" stroke="#2b2b2b" stroke-width="1.1"/>
<text x="441.5" y="455.35" font-size="8.28" text-anchor="end" textLength="4.23" lengthAdjust="spacingAndGlyphs">2</text>
<line x1="443.4" y1="471" x2="446.4" y2="471" stroke="#2b2b2b" stroke-width="1.1"/>
<text x="441.5" y="474.1" font-size="8.28" text-anchor="end" textLength="4.23" lengthAdjust="spacingAndGlyphs">0</text>
<line x1="445.9" y1="471" x2="511.5" y2="471" stroke="#2b2b2b" stroke-width="1.1"/>
<line x1="464.6" y1="471" x2="464.6" y2="474.3" stroke="#2b2b2b" stroke-width="1.1"/>
<line x1="492.8" y1="471" x2="492.8" y2="474.3" stroke="#2b2b2b" stroke-width="1.1"/>
<text transform="translate(433,432.55) rotate(-90)" x="0" y="0" font-size="9.2" text-anchor="middle" textLength="45.3" lengthAdjust="spacingAndGlyphs" stroke="#231f20" stroke-width="0.25">% Donor PBMC</text>
<path d="M464.4,447.5 V403.5 H492.9 V408.1" fill="none" stroke="#3a3a3a" stroke-width="0.8"/>
<text x="467" y="399.75" font-size="8.06" textLength="24.25" lengthAdjust="spacingAndGlyphs" >0.0368</text>
<text x="457.25" y="482.5" font-size="8.06" textLength="12.4" lengthAdjust="spacingAndGlyphs" >WT</text>
<text x="479.5" y="482.5" font-size="8.06" textLength="27.65" lengthAdjust="spacingAndGlyphs" >DPT KO</text>
<text x="457.3" y="490.8" font-size="8.6" textLength="42.9" lengthAdjust="spacingAndGlyphs" stroke="#231f20" stroke-width="0.2">Secondary HCT</text>
<line x1="464.75" y1="456.5" x2="464.75" y2="467.1" stroke="#cf2a44" stroke-width="1"/>
<line x1="455.05" y1="461.9" x2="474.45" y2="461.9" stroke="#cf2a44" stroke-width="1"/>
<line x1="459.45" y1="456.5" x2="470.05" y2="456.5" stroke="#cf2a44" stroke-width="1"/>
<line x1="459.45" y1="467.1" x2="470.05" y2="467.1" stroke="#cf2a44" stroke-width="1"/>
<circle cx="464.75" cy="452.5" r="1.3" fill="#c8102e"/>
<circle cx="464.75" cy="456.25" r="1.3" fill="#c8102e"/>
<circle cx="456.9" cy="458.5" r="1.3" fill="#c8102e"/>
<circle cx="462.25" cy="459.4" r="1.3" fill="#c8102e"/>
<circle cx="467.25" cy="459.75" r="1.3" fill="#c8102e"/>
<circle cx="472.5" cy="458.75" r="1.3" fill="#c8102e"/>
<circle cx="461.9" cy="466.6" r="1.3" fill="#c8102e"/>
<circle cx="467.25" cy="467.1" r="1.3" fill="#c8102e"/>
<circle cx="472.75" cy="466.9" r="1.3" fill="#c8102e"/>
<circle cx="456.9" cy="468.4" r="1.3" fill="#c8102e"/>
<line x1="492.8" y1="430.25" x2="492.8" y2="465.6" stroke="#23609c" stroke-width="1"/>
<line x1="483" y1="447.75" x2="502.6" y2="447.75" stroke="#23609c" stroke-width="1"/>
<line x1="487.8" y1="430.25" x2="497.8" y2="430.25" stroke="#23609c" stroke-width="1"/>
<line x1="487.8" y1="465.6" x2="497.8" y2="465.6" stroke="#23609c" stroke-width="1"/>
<circle cx="492.9" cy="412.25" r="1.3" fill="#0b4a88"/>
<circle cx="492.9" cy="425.6" r="1.3" fill="#0b4a88"/>
<circle cx="485" cy="450.1" r="1.3" fill="#0b4a88"/>
<circle cx="492.8" cy="450.2" r="1.3" fill="#0b4a88"/>
<circle cx="500.6" cy="453" r="1.3" fill="#0b4a88"/>
<circle cx="492.8" cy="453.75" r="1.3" fill="#0b4a88"/>
<circle cx="500.6" cy="458.1" r="1.3" fill="#0b4a88"/>
<circle cx="492.8" cy="460.6" r="1.3" fill="#0b4a88"/>
<circle cx="492.8" cy="467.5" r="1.3" fill="#0b4a88"/>
<text x="8.55" y="514.1" font-size="10.2" font-weight="bold" stroke="#111" stroke-width="0.35">P</text>
<use href="#cell" transform="translate(21.6,542.45) scale(0.9)"/>
<use href="#cell" transform="translate(29.1,537.45) scale(0.9)"/>
<use href="#cell" transform="translate(36.95,534.45) scale(0.9)"/>
<use href="#cell" transform="translate(46.2,539.45) scale(0.9)"/>
<use href="#cell" transform="translate(28.2,545.3) scale(0.9)"/>
<use href="#cell" transform="translate(36.95,544.45) scale(0.9)"/>
<text x="17.95" y="558.9" font-size="8.06" textLength="34.1" lengthAdjust="spacingAndGlyphs" >1500 LSK</text>
<text x="21.25" y="566.9" font-size="8.06" textLength="26.8" lengthAdjust="spacingAndGlyphs" >CD45.1</text>
<text x="34.7" y="575.7" font-size="7.4" text-anchor="middle">+</text>
<text x="20.65" y="583.4" font-size="8.06" textLength="28.7" lengthAdjust="spacingAndGlyphs" >500,000</text>
<text x="9.45" y="591.5" font-size="8.06" textLength="50.7" lengthAdjust="spacingAndGlyphs" >CD45.2 rescue</text>
<text x="16.55" y="599.5" font-size="8.06" textLength="36.5" lengthAdjust="spacingAndGlyphs" >WBM cells</text>
<line x1="55" y1="556" x2="88.5" y2="524.5" stroke="#1a1a1a" stroke-width="0.95" marker-end="url(#ah)"/>
<line x1="55" y1="556" x2="96.9" y2="573" stroke="#1a1a1a" stroke-width="0.95" marker-end="url(#ah)"/>
<text x="82.85" y="504.9" font-size="8.06" textLength="20.15" lengthAdjust="spacingAndGlyphs" >10 Gy</text>
<use href="#bolt" transform="translate(92.25,506.9) scale(1,1)"/>
<use href="#mouse" transform="translate(110,520.8)"/>
<text x="96" y="548.6" font-size="8.06" textLength="26.5" lengthAdjust="spacingAndGlyphs" >CD45.2</text>
<text x="87.25" y="558" font-size="8.06" textLength="19.9" lengthAdjust="spacingAndGlyphs" >10 Gy</text>
<use href="#bolt" transform="translate(96.9,560.4) scale(1,1)"/>
<use href="#mouse" transform="translate(114,574.5)"/>
<text x="99.75" y="603.1" font-size="8.06" textLength="27" lengthAdjust="spacingAndGlyphs" >DPT KO</text>
<text x="97.85" y="611.9" font-size="8.06" textLength="31.15" lengthAdjust="spacingAndGlyphs" >(CD45.2)</text>
<text x="173.55" y="514.85" font-size="10.2" font-weight="bold" stroke="#111" stroke-width="0.35">Q</text>
<text x="196.05" y="515.6" font-size="9.63" textLength="68.1" lengthAdjust="spacingAndGlyphs" >PBMC 20 weeks</text>
<line x1="196.3" y1="527.2" x2="196.3" y2="605.1" stroke="#2b2b2b" stroke-width="1.1"/>
<line x1="193.3" y1="527.75" x2="196.3" y2="527.75" stroke="#2b2b2b" stroke-width="1.1"/>
<text x="191.05" y="530.85" font-size="8.28" text-anchor="end" textLength="12.68" lengthAdjust="spacingAndGlyphs">100</text>
<line x1="193.3" y1="543.1" x2="196.3" y2="543.1" stroke="#2b2b2b" stroke-width="1.1"/>
<text x="191.05" y="546.2" font-size="8.28" text-anchor="end" textLength="8.45" lengthAdjust="spacingAndGlyphs">80</text>
<line x1="193.3" y1="558.4" x2="196.3" y2="558.4" stroke="#2b2b2b" stroke-width="1.1"/>
<text x="191.05" y="561.5" font-size="8.28" text-anchor="end" textLength="8.45" lengthAdjust="spacingAndGlyphs">60</text>
<line x1="193.3" y1="573.75" x2="196.3" y2="573.75" stroke="#2b2b2b" stroke-width="1.1"/>
<text x="191.05" y="576.85" font-size="8.28" text-anchor="end" textLength="8.45" lengthAdjust="spacingAndGlyphs">40</text>
<line x1="193.3" y1="589.2" x2="196.3" y2="589.2" stroke="#2b2b2b" stroke-width="1.1"/>
<text x="191.05" y="592.3" font-size="8.28" text-anchor="end" textLength="8.45" lengthAdjust="spacingAndGlyphs">20</text>
<line x1="193.3" y1="604.6" x2="196.3" y2="604.6" stroke="#2b2b2b" stroke-width="1.1"/>
<text x="191.05" y="607.7" font-size="8.28" text-anchor="end" textLength="4.23" lengthAdjust="spacingAndGlyphs">0</text>
<line x1="195.8" y1="604.7" x2="261.3" y2="604.7" stroke="#2b2b2b" stroke-width="1.1"/>
<line x1="214.5" y1="604.7" x2="214.5" y2="608" stroke="#2b2b2b" stroke-width="1.1"/>
<line x1="243.25" y1="604.7" x2="243.25" y2="608" stroke="#2b2b2b" stroke-width="1.1"/>
<text transform="translate(177.2,566.45) rotate(-90)" x="0" y="0" font-size="9.2" text-anchor="middle" textLength="45.3" lengthAdjust="spacingAndGlyphs" stroke="#231f20" stroke-width="0.25">% Donor PBMC</text>
<path d="M214.5,572.25 V547.5 H243.25 V552.5" fill="none" stroke="#3a3a3a" stroke-width="0.8"/>
<text x="216.75" y="543.75" font-size="8.06" textLength="24.25" lengthAdjust="spacingAndGlyphs" >0.0474</text>
<text x="207.45" y="616.3" font-size="8.06" textLength="12.05" lengthAdjust="spacingAndGlyphs" >WT</text>
<text x="229.55" y="616.3" font-size="8.06" textLength="27.8" lengthAdjust="spacingAndGlyphs" >DPT KO</text>
<line x1="214.5" y1="584.75" x2="214.5" y2="603.5" stroke="#cf2a44" stroke-width="1"/>
<line x1="204.7" y1="593.1" x2="224.3" y2="593.1" stroke="#cf2a44" stroke-width="1"/>
<line x1="209.3" y1="584.75" x2="219.7" y2="584.75" stroke="#cf2a44" stroke-width="1"/>
<line x1="209.3" y1="603.5" x2="219.7" y2="603.5" stroke="#cf2a44" stroke-width="1"/>
<circle cx="214.5" cy="577.75" r="1.3" fill="#c8102e"/>
<circle cx="209.25" cy="582.9" r="1.3" fill="#c8102e"/>
<circle cx="214.5" cy="582.5" r="1.3" fill="#c8102e"/>
<circle cx="220.1" cy="582.5" r="1.3" fill="#c8102e"/>
<circle cx="217.6" cy="590.9" r="1.3" fill="#c8102e"/>
<circle cx="206.75" cy="594.75" r="1.3" fill="#c8102e"/>
<circle cx="212" cy="593.75" r="1.3" fill="#c8102e"/>
<circle cx="222.6" cy="594" r="1.3" fill="#c8102e"/>
<circle cx="212" cy="596.25" r="1.3" fill="#c8102e"/>
<circle cx="217.6" cy="596.25" r="1.3" fill="#c8102e"/>
<circle cx="206.75" cy="599" r="1.3" fill="#c8102e"/>
<circle cx="222.6" cy="598.1" r="1.3" fill="#c8102e"/>
<circle cx="212" cy="600.6" r="1.3" fill="#c8102e"/>
<circle cx="217.6" cy="599.75" r="1.3" fill="#c8102e"/>
<circle cx="212" cy="603.5" r="1.3" fill="#c8102e"/>
<circle cx="217.6" cy="603.5" r="1.3" fill="#c8102e"/>
<line x1="243.25" y1="573.1" x2="243.25" y2="596.9" stroke="#23609c" stroke-width="1"/>
<line x1="233.35" y1="585" x2="253.15" y2="585" stroke="#23609c" stroke-width="1"/>
<line x1="238.15" y1="573.1" x2="248.35" y2="573.1" stroke="#23609c" stroke-width="1"/>
<line x1="238.15" y1="596.9" x2="248.35" y2="596.9" stroke="#23609c" stroke-width="1"/>
<circle cx="243.25" cy="557.25" r="1.3" fill="#0b4a88"/>
<circle cx="235.1" cy="573.75" r="1.3" fill="#0b4a88"/>
<circle cx="251.4" cy="572.25" r="1.3" fill="#0b4a88"/>
<circle cx="243.25" cy="576.6" r="1.3" fill="#0b4a88"/>
<circle cx="243.25" cy="580" r="1.3" fill="#0b4a88"/>
<circle cx="239.5" cy="584.1" r="1.3" fill="#0b4a88"/>
<circle cx="247" cy="583.75" r="1.3" fill="#0b4a88"/>
<circle cx="243.25" cy="587.5" r="1.3" fill="#0b4a88"/>
<circle cx="235.5" cy="590.9" r="1.3" fill="#0b4a88"/>
<circle cx="251.4" cy="588.5" r="1.3" fill="#0b4a88"/>
<circle cx="243.25" cy="592.1" r="1.3" fill="#0b4a88"/>
<circle cx="251.4" cy="591.9" r="1.3" fill="#0b4a88"/>
<circle cx="243.25" cy="599.4" r="1.3" fill="#0b4a88"/>
<circle cx="235.5" cy="600.25" r="1.3" fill="#0b4a88"/>
<circle cx="251.4" cy="599.4" r="1.3" fill="#0b4a88"/>
<text x="278.7" y="514.85" font-size="10.2" font-weight="bold" stroke="#111" stroke-width="0.35">R</text>
<text x="335.25" y="509.8" font-size="9.63" textLength="16" lengthAdjust="spacingAndGlyphs" >LSK</text>
<line x1="309.5" y1="528.6" x2="309.5" y2="606.1" stroke="#2b2b2b" stroke-width="1.1"/>
<line x1="306.5" y1="529" x2="309.5" y2="529" stroke="#2b2b2b" stroke-width="1.1"/>
<text x="303.5" y="532.1" font-size="8.28" text-anchor="end" textLength="12.68" lengthAdjust="spacingAndGlyphs">100</text>
<line x1="306.5" y1="544.3" x2="309.5" y2="544.3" stroke="#2b2b2b" stroke-width="1.1"/>
<text x="303.5" y="547.4" font-size="8.28" text-anchor="end" textLength="8.45" lengthAdjust="spacingAndGlyphs">80</text>
<line x1="306.5" y1="559.6" x2="309.5" y2="559.6" stroke="#2b2b2b" stroke-width="1.1"/>
<text x="303.5" y="562.7" font-size="8.28" text-anchor="end" textLength="8.45" lengthAdjust="spacingAndGlyphs">60</text>
<line x1="306.5" y1="575" x2="309.5" y2="575" stroke="#2b2b2b" stroke-width="1.1"/>
<text x="303.5" y="578.1" font-size="8.28" text-anchor="end" textLength="8.45" lengthAdjust="spacingAndGlyphs">40</text>
<line x1="306.5" y1="590.3" x2="309.5" y2="590.3" stroke="#2b2b2b" stroke-width="1.1"/>
<text x="303.5" y="593.4" font-size="8.28" text-anchor="end" textLength="8.45" lengthAdjust="spacingAndGlyphs">20</text>
<line x1="306.5" y1="605.6" x2="309.5" y2="605.6" stroke="#2b2b2b" stroke-width="1.1"/>
<text x="303.5" y="608.7" font-size="8.28" text-anchor="end" textLength="4.23" lengthAdjust="spacingAndGlyphs">0</text>
<line x1="309" y1="605.6" x2="374.5" y2="605.6" stroke="#2b2b2b" stroke-width="1.1"/>
<line x1="327.9" y1="605.6" x2="327.9" y2="608.9" stroke="#2b2b2b" stroke-width="1.1"/>
<line x1="356.25" y1="605.6" x2="356.25" y2="608.9" stroke="#2b2b2b" stroke-width="1.1"/>
<text transform="translate(279.8,567.55) rotate(-90)" x="0" y="0" font-size="9.2" text-anchor="middle" textLength="45.7" lengthAdjust="spacingAndGlyphs" stroke="#231f20" stroke-width="0.25">% CD45.1 donor</text>
<text transform="translate(290.7,567.55) rotate(-90)" x="0" y="0" font-size="9.2" text-anchor="middle" textLength="56.1" lengthAdjust="spacingAndGlyphs" stroke="#231f20" stroke-width="0.25">contribution to LSK</text>
<path d="M327.9,568.75 V529.5 H356.25 V534" fill="none" stroke="#3a3a3a" stroke-width="0.8"/>
<text x="328.45" y="524.6" font-size="8.06" textLength="26.7" lengthAdjust="spacingAndGlyphs" >0.0564</text>
<text x="320.35" y="618" font-size="8.06" textLength="12.65" lengthAdjust="spacingAndGlyphs" >WT</text>
<text x="342.45" y="618" font-size="8.06" textLength="27.6" lengthAdjust="spacingAndGlyphs" >DPT KO</text>
<line x1="327.9" y1="591" x2="327.9" y2="605.4" stroke="#cf2a44" stroke-width="1"/>
<line x1="318.1" y1="599.4" x2="337.7" y2="599.4" stroke="#cf2a44" stroke-width="1"/>
<line x1="322.7" y1="591" x2="333.1" y2="591" stroke="#cf2a44" stroke-width="1"/>
<line x1="322.7" y1="605.4" x2="333.1" y2="605.4" stroke="#cf2a44" stroke-width="1"/>
<circle cx="327.9" cy="574" r="1.3" fill="#c8102e"/>
<circle cx="327.9" cy="588.1" r="1.3" fill="#c8102e"/>
<circle cx="327.9" cy="592.5" r="1.3" fill="#c8102e"/>
<circle cx="327.9" cy="596.25" r="1.3" fill="#c8102e"/>
<circle cx="329.4" cy="598.75" r="1.3" fill="#c8102e"/>
<circle cx="325.6" cy="602.25" r="1.3" fill="#c8102e"/>
<circle cx="322.5" cy="603.1" r="1.3" fill="#c8102e"/>
<circle cx="320" cy="604.75" r="1.3" fill="#c8102e"/>
<circle cx="325" cy="605" r="1.3" fill="#c8102e"/>
<circle cx="330" cy="604.75" r="1.3" fill="#c8102e"/>
<circle cx="333.1" cy="605" r="1.3" fill="#c8102e"/>
<circle cx="335.6" cy="605" r="1.3" fill="#c8102e"/>
<line x1="356.25" y1="566.25" x2="356.25" y2="605.4" stroke="#23609c" stroke-width="1"/>
<line x1="346.5" y1="587.75" x2="366" y2="587.75" stroke="#23609c" stroke-width="1"/>
<line x1="351.25" y1="566.25" x2="361.25" y2="566.25" stroke="#23609c" stroke-width="1"/>
<line x1="351.25" y1="605.4" x2="361.25" y2="605.4" stroke="#23609c" stroke-width="1"/>
<circle cx="356.25" cy="539" r="1.3" fill="#0b4a88"/>
<circle cx="356.25" cy="547.1" r="1.3" fill="#0b4a88"/>
<circle cx="356.25" cy="561" r="1.3" fill="#0b4a88"/>
<circle cx="356.25" cy="570.6" r="1.3" fill="#0b4a88"/>
<circle cx="356.25" cy="583.75" r="1.3" fill="#0b4a88"/>
<circle cx="353.1" cy="591.9" r="1.3" fill="#0b4a88"/>
<circle cx="353.1" cy="595.6" r="1.3" fill="#0b4a88"/>
<circle cx="358.75" cy="594.75" r="1.3" fill="#0b4a88"/>
<circle cx="356.25" cy="598.1" r="1.3" fill="#0b4a88"/>
<circle cx="348.1" cy="603.75" r="1.3" fill="#0b4a88"/>
<circle cx="351.25" cy="601.9" r="1.3" fill="#0b4a88"/>
<circle cx="356.25" cy="602.5" r="1.3" fill="#0b4a88"/>
<circle cx="361.25" cy="602.25" r="1.3" fill="#0b4a88"/>
<circle cx="353.75" cy="604.75" r="1.3" fill="#0b4a88"/>
<circle cx="358.75" cy="605" r="1.3" fill="#0b4a88"/>
<circle cx="363.75" cy="604" r="1.3" fill="#0b4a88"/>
<text x="386.05" y="514.85" font-size="10.2" font-weight="bold" stroke="#111" stroke-width="0.35">S</text>
<text x="436.35" y="510.6" font-size="9.63" textLength="24.8" lengthAdjust="spacingAndGlyphs" >SLAM</text>
<line x1="412.5" y1="528.1" x2="412.5" y2="607" stroke="#2b2b2b" stroke-width="1.1"/>
<line x1="409.5" y1="528.5" x2="412.5" y2="528.5" stroke="#2b2b2b" stroke-width="1.1"/>
<text x="407.5" y="531.6" font-size="8.28" text-anchor="end" textLength="8.45" lengthAdjust="spacingAndGlyphs">30</text>
<line x1="409.5" y1="554.5" x2="412.5" y2="554.5" stroke="#2b2b2b" stroke-width="1.1"/>
<text x="407.5" y="557.6" font-size="8.28" text-anchor="end" textLength="8.45" lengthAdjust="spacingAndGlyphs">20</text>
<line x1="409.5" y1="580.5" x2="412.5" y2="580.5" stroke="#2b2b2b" stroke-width="1.1"/>
<text x="407.5" y="583.6" font-size="8.28" text-anchor="end" textLength="8.45" lengthAdjust="spacingAndGlyphs">10</text>
<line x1="409.5" y1="606.5" x2="412.5" y2="606.5" stroke="#2b2b2b" stroke-width="1.1"/>
<text x="407.5" y="609.6" font-size="8.28" text-anchor="end" textLength="4.23" lengthAdjust="spacingAndGlyphs">0</text>
<line x1="412" y1="606.5" x2="475.7" y2="606.5" stroke="#2b2b2b" stroke-width="1.1"/>
<line x1="430.25" y1="606.5" x2="430.25" y2="609.8" stroke="#2b2b2b" stroke-width="1.1"/>
<line x1="457.75" y1="606.5" x2="457.75" y2="609.8" stroke="#2b2b2b" stroke-width="1.1"/>
<text transform="translate(385,568.25) rotate(-90)" x="0" y="0" font-size="9.2" text-anchor="middle" textLength="47.4" lengthAdjust="spacingAndGlyphs" stroke="#231f20" stroke-width="0.25">% CD45.1 donor</text>
<text transform="translate(395.6,567.55) rotate(-90)" x="0" y="0" font-size="9.2" text-anchor="middle" textLength="74.7" lengthAdjust="spacingAndGlyphs" stroke="#231f20" stroke-width="0.25">contribution to LSK-SLAM</text>
<path d="M430.25,588.75 V561.25 H457.75 V565.6" fill="none" stroke="#3a3a3a" stroke-width="0.8"/>
<text x="429.25" y="557.5" font-size="8.06" textLength="24.25" lengthAdjust="spacingAndGlyphs" >0.0407</text>
<text x="422.5" y="618.3" font-size="8.06" textLength="12.25" lengthAdjust="spacingAndGlyphs" >WT</text>
<text x="443.55" y="618.3" font-size="8.06" textLength="28.2" lengthAdjust="spacingAndGlyphs" >DPT KO</text>
<line x1="430.25" y1="599" x2="430.25" y2="606.3" stroke="#cf2a44" stroke-width="1"/>
<line x1="421.95" y1="602.5" x2="438.55" y2="602.5" stroke="#cf2a44" stroke-width="1"/>
<line x1="426.75" y1="599" x2="433.75" y2="599" stroke="#cf2a44" stroke-width="1"/>
<line x1="426.75" y1="606.3" x2="433.75" y2="606.3" stroke="#cf2a44" stroke-width="1"/>
<circle cx="430.25" cy="593.1" r="1.3" fill="#c8102e"/>
<circle cx="427.4" cy="597.5" r="1.3" fill="#c8102e"/>
<circle cx="433.6" cy="596" r="1.3" fill="#c8102e"/>
<circle cx="433.6" cy="599.4" r="1.3" fill="#c8102e"/>
<circle cx="430.25" cy="600.6" r="1.3" fill="#c8102e"/>
<circle cx="425.5" cy="603.5" r="1.3" fill="#c8102e"/>
<circle cx="430.25" cy="603.75" r="1.3" fill="#c8102e"/>
<circle cx="436.1" cy="601.9" r="1.3" fill="#c8102e"/>
<circle cx="433.6" cy="603.75" r="1.3" fill="#c8102e"/>
<circle cx="422.75" cy="606.5" r="1.3" fill="#c8102e"/>
<circle cx="427.4" cy="606.25" r="1.3" fill="#c8102e"/>
<circle cx="432.4" cy="606.25" r="1.3" fill="#c8102e"/>
<circle cx="438" cy="606.5" r="1.3" fill="#c8102e"/>
<line x1="457.75" y1="583.4" x2="457.75" y2="606.3" stroke="#23609c" stroke-width="1"/>
<line x1="449.35" y1="595.25" x2="466.15" y2="595.25" stroke="#23609c" stroke-width="1"/>
<line x1="453.15" y1="583.4" x2="462.35" y2="583.4" stroke="#23609c" stroke-width="1"/>
<line x1="453.15" y1="606.3" x2="462.35" y2="606.3" stroke="#23609c" stroke-width="1"/>
<circle cx="457.75" cy="570.25" r="1.3" fill="#0b4a88"/>
<circle cx="455.5" cy="575.25" r="1.3" fill="#0b4a88"/>
<circle cx="459.5" cy="575.25" r="1.3" fill="#0b4a88"/>
<circle cx="457.75" cy="589.75" r="1.3" fill="#0b4a88"/>
<circle cx="457.75" cy="594.4" r="1.3" fill="#0b4a88"/>
<circle cx="453" cy="598.5" r="1.3" fill="#0b4a88"/>
<circle cx="457.75" cy="598.75" r="1.3" fill="#0b4a88"/>
<circle cx="462" cy="600" r="1.3" fill="#0b4a88"/>
<circle cx="450.5" cy="602.5" r="1.3" fill="#0b4a88"/>
<circle cx="454.5" cy="602.5" r="1.3" fill="#0b4a88"/>
<circle cx="459.25" cy="602.5" r="1.3" fill="#0b4a88"/>
<circle cx="462.4" cy="603.1" r="1.3" fill="#0b4a88"/>
<circle cx="465.5" cy="602.25" r="1.3" fill="#0b4a88"/>
<circle cx="452.4" cy="606.25" r="1.3" fill="#0b4a88"/>
<circle cx="457.75" cy="606.25" r="1.3" fill="#0b4a88"/>
<rect x="0.5" y="0.5" width="518.8" height="622.6" fill="none" stroke="#1e1e1e" stroke-width="1.2"/>
<line x1="0" y1="623.2" x2="520" y2="623.2" stroke="#262626" stroke-width="1.6"/>
</svg>
</body></html>
